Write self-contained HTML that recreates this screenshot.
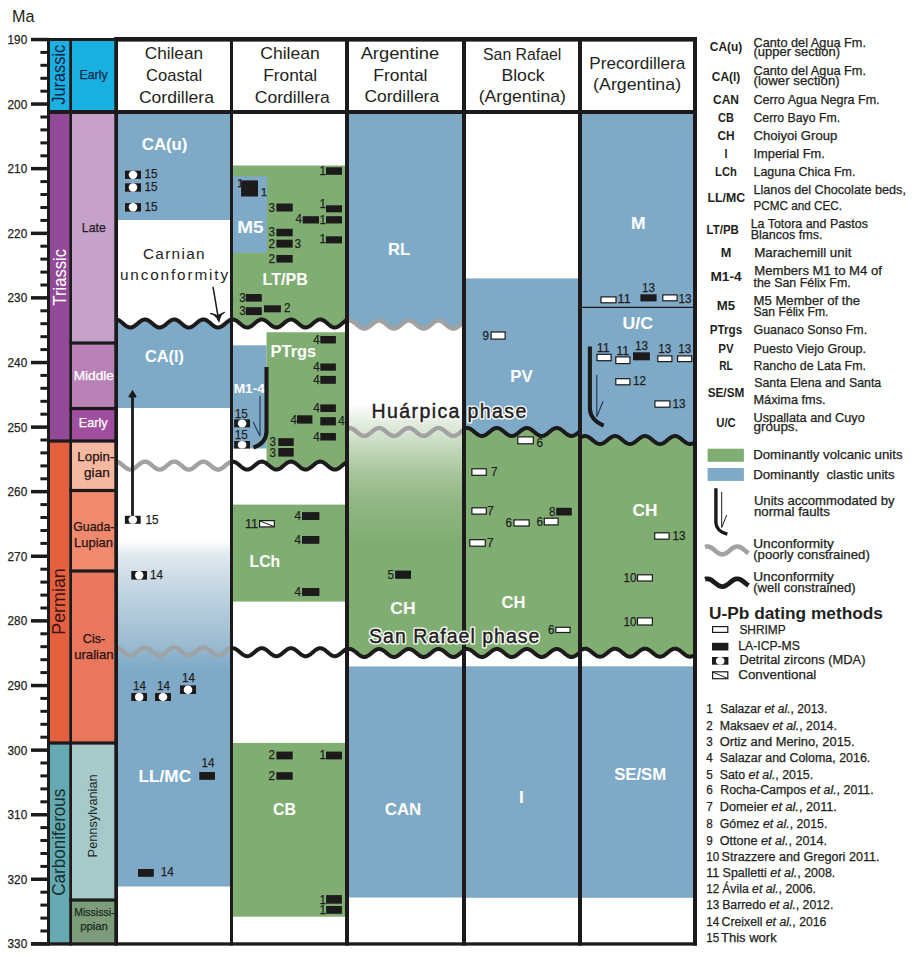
<!DOCTYPE html>
<html><head><meta charset="utf-8"><style>
html,body{margin:0;padding:0;background:#fff;width:915px;height:959px;overflow:hidden}
svg{display:block;font-family:"Liberation Sans",sans-serif}
</style></head><body>
<svg width="915" height="959" viewBox="0 0 915 959">
<rect width="915" height="959" fill="#fff"/>
<rect x="50.0" y="41.0" width="19.5" height="71.0" fill="#1ab0e2" />
<rect x="50.0" y="112.0" width="19.5" height="329.0" fill="#924a98" />
<rect x="50.0" y="441.0" width="19.5" height="302.0" fill="#e5603f" />
<rect x="50.0" y="743.0" width="19.5" height="200.0" fill="#67a9b0" />
<rect x="71.5" y="41.0" width="44.5" height="71.0" fill="#1ab0e2" />
<rect x="71.5" y="112.0" width="44.5" height="231.0" fill="#c6a2cb" />
<rect x="71.5" y="343.0" width="44.5" height="65.5" fill="#b982b7" />
<rect x="71.5" y="408.5" width="44.5" height="32.5" fill="#a04f9e" />
<rect x="71.5" y="441.0" width="44.5" height="49.5" fill="#f5b9a2" />
<rect x="71.5" y="490.5" width="44.5" height="80.5" fill="#ef8a6e" />
<rect x="71.5" y="571.0" width="44.5" height="172.0" fill="#e8775e" />
<rect x="71.5" y="743.0" width="44.5" height="157.0" fill="#a6c9c9" />
<rect x="71.5" y="900.0" width="44.5" height="43.0" fill="#7d9c7c" />
<rect x="118.0" y="112.0" width="113.0" height="108.0" fill="#7eaac8" />
<polygon fill="#7eaac8" points="118.0,319.94 119.0,320.41 120.0,321.03 121.0,321.75 122.0,322.56 123.0,323.41 124.0,324.27 125.0,325.09 126.0,325.84 127.0,326.48 128.0,326.98 129.0,327.32 130.0,327.49 131.0,327.47 132.0,327.27 133.0,326.89 134.0,326.36 135.0,325.70 136.0,324.93 137.0,324.10 138.0,323.24 139.0,322.40 140.0,321.60 141.0,320.89 142.0,320.30 143.0,319.86 144.0,319.59 145.0,319.50 146.0,319.59 147.0,319.86 148.0,320.30 149.0,320.89 150.0,321.60 151.0,322.40 152.0,323.24 153.0,324.10 154.0,324.93 155.0,325.70 156.0,326.36 157.0,326.89 158.0,327.27 159.0,327.47 160.0,327.49 161.0,327.32 162.0,326.98 163.0,326.48 164.0,325.84 165.0,325.09 166.0,324.27 167.0,323.41 168.0,322.56 169.0,321.75 170.0,321.03 171.0,320.41 172.0,319.94 173.0,319.63 174.0,319.50 175.0,319.56 176.0,319.80 177.0,320.20 178.0,320.76 179.0,321.45 180.0,322.23 181.0,323.07 182.0,323.93 183.0,324.77 184.0,325.55 185.0,326.24 186.0,326.80 187.0,327.20 188.0,327.44 189.0,327.50 190.0,327.37 191.0,327.06 192.0,326.59 193.0,325.97 194.0,325.25 195.0,324.44 196.0,323.59 197.0,322.73 198.0,321.91 199.0,321.16 200.0,320.52 201.0,320.02 202.0,319.68 203.0,319.51 204.0,319.53 205.0,319.73 206.0,320.11 207.0,320.64 208.0,321.30 209.0,322.07 210.0,322.90 211.0,323.76 212.0,324.60 213.0,325.40 214.0,326.11 215.0,326.70 216.0,327.14 217.0,327.41 218.0,327.50 219.0,327.41 220.0,327.14 221.0,326.70 222.0,326.11 223.0,325.40 224.0,324.60 225.0,323.76 226.0,322.90 227.0,322.07 228.0,321.30 229.0,320.64 230.0,320.11 231.0,319.73 231.0,408.00 118.0,408.00"/>
<defs><linearGradient id="g1" x1="0" y1="0" x2="0" y2="1"><stop offset="0" stop-color="#ffffff"/><stop offset="0.03" stop-color="#f8fafc"/><stop offset="0.12" stop-color="#dfe8ef"/><stop offset="0.45" stop-color="#bcd1df"/><stop offset="0.8" stop-color="#9dbcd1"/><stop offset="1" stop-color="#7eaac8"/></linearGradient>
<linearGradient id="g3" x1="0" y1="0" x2="0" y2="1"><stop offset="0" stop-color="#ffffff"/><stop offset="0.12" stop-color="#e6eee3"/><stop offset="0.3" stop-color="#c6dabf"/><stop offset="0.5" stop-color="#a8c69c"/><stop offset="0.72" stop-color="#90b683"/><stop offset="1" stop-color="#80ae72"/></linearGradient></defs>
<rect x="118.0" y="540.0" width="113.0" height="128.0" fill="url(#g1)" />
<rect x="118.0" y="667.5" width="113.0" height="219.0" fill="#7eaac8" />
<polygon fill="#80ae72" points="232.0,165.40 346.0,165.40 346.0,320.52 345.0,321.16 344.0,321.91 343.0,322.73 342.0,323.59 341.0,324.44 340.0,325.25 339.0,325.97 338.0,326.59 337.0,327.06 336.0,327.37 335.0,327.50 334.0,327.44 333.0,327.20 332.0,326.80 331.0,326.24 330.0,325.55 329.0,324.77 328.0,323.93 327.0,323.07 326.0,322.23 325.0,321.45 324.0,320.76 323.0,320.20 322.0,319.80 321.0,319.56 320.0,319.50 319.0,319.63 318.0,319.94 317.0,320.41 316.0,321.03 315.0,321.75 314.0,322.56 313.0,323.41 312.0,324.27 311.0,325.09 310.0,325.84 309.0,326.48 308.0,326.98 307.0,327.32 306.0,327.49 305.0,327.47 304.0,327.27 303.0,326.89 302.0,326.36 301.0,325.70 300.0,324.93 299.0,324.10 298.0,323.24 297.0,322.40 296.0,321.60 295.0,320.89 294.0,320.30 293.0,319.86 292.0,319.59 291.0,319.50 290.0,319.59 289.0,319.86 288.0,320.30 287.0,320.89 286.0,321.60 285.0,322.40 284.0,323.24 283.0,324.10 282.0,324.93 281.0,325.70 280.0,326.36 279.0,326.89 278.0,327.27 277.0,327.47 276.0,327.49 275.0,327.32 274.0,326.98 273.0,326.48 272.0,325.84 271.0,325.09 270.0,324.27 269.0,323.41 268.0,322.56 267.0,321.75 266.0,321.03 265.0,320.41 264.0,319.94 263.0,319.63 262.0,319.50 261.0,319.56 260.0,319.80 259.0,320.20 258.0,320.76 257.0,321.45 256.0,322.23 255.0,323.07 254.0,323.93 253.0,324.77 252.0,325.55 251.0,326.24 250.0,326.80 249.0,327.20 248.0,327.44 247.0,327.50 246.0,327.37 245.0,327.06 244.0,326.59 243.0,325.97 242.0,325.25 241.0,324.44 240.0,323.59 239.0,322.73 238.0,321.91 237.0,321.16 236.0,320.52 235.0,320.02 234.0,319.68 233.0,319.51 232.0,319.53"/>
<rect x="232.0" y="176.3" width="35.0" height="76.5" fill="#7eaac8" />
<rect x="232.0" y="345.3" width="34.5" height="103.2" fill="#7eaac8" />
<polygon fill="#80ae72" points="266.5,332.20 346.0,332.20 346.0,462.52 345.5,462.83 344.5,463.52 343.5,464.31 342.5,465.16 341.5,466.01 340.5,466.85 339.5,467.62 338.5,468.30 337.5,468.84 336.5,469.24 335.5,469.45 334.5,469.49 333.5,469.34 332.5,469.02 331.5,468.53 330.5,467.91 329.5,467.17 328.5,466.35 327.5,465.50 326.5,464.65 325.5,463.83 324.5,463.09 323.5,462.47 322.5,461.98 321.5,461.66 320.5,461.51 319.5,461.55 318.5,461.76 317.5,462.16 316.5,462.70 315.5,463.38 314.5,464.15 313.5,464.99 312.5,465.84 311.5,466.69 310.5,467.48 309.5,468.17 308.5,468.75 307.5,469.17 306.5,469.43 305.5,469.50 304.5,469.39 303.5,469.10 302.5,468.64 301.5,468.04 300.5,467.32 299.5,466.52 298.5,465.67 297.5,464.81 296.5,463.99 295.5,463.23 294.5,462.58 293.5,462.06 292.5,461.71 291.5,461.52 290.5,461.52 289.5,461.71 288.5,462.06 287.5,462.58 286.5,463.23 285.5,463.99 284.5,464.81 283.5,465.67 282.5,466.52 281.5,467.32 280.5,468.04 279.5,468.64 278.5,469.10 277.5,469.39 276.5,469.50 275.5,469.43 274.5,469.17 273.5,468.75 272.5,468.17 271.5,467.48 270.5,466.69 269.5,465.84 268.5,464.99 267.5,464.15 266.5,463.38"/>
<rect x="232.0" y="504.6" width="114.0" height="97.0" fill="#80ae72" />
<rect x="232.0" y="742.9" width="114.0" height="173.8" fill="#80ae72" />
<polygon fill="#7eaac8" points="348.0,112.00 463.0,112.00 463.0,322.79 462.0,323.57 461.0,324.41 460.0,325.25 459.0,326.07 458.0,326.82 457.0,327.47 456.0,327.99 455.0,328.36 454.0,328.56 453.0,328.59 452.0,328.44 451.0,328.12 450.0,327.64 449.0,327.02 448.0,326.30 447.0,325.50 446.0,324.66 445.0,323.82 444.0,323.02 443.0,322.28 442.0,321.65 441.0,321.15 440.0,320.80 439.0,320.62 438.0,320.62 437.0,320.80 436.0,321.15 435.0,321.65 434.0,322.28 433.0,323.02 432.0,323.82 431.0,324.66 430.0,325.50 429.0,326.30 428.0,327.02 427.0,327.64 426.0,328.12 425.0,328.44 424.0,328.59 423.0,328.56 422.0,328.36 421.0,327.99 420.0,327.47 419.0,326.82 418.0,326.07 417.0,325.25 416.0,324.41 415.0,323.57 414.0,322.79 413.0,322.08 412.0,321.48 411.0,321.03 410.0,320.73 409.0,320.60 408.0,320.66 407.0,320.89 406.0,321.28 405.0,321.82 404.0,322.49 403.0,323.25 402.0,324.07 401.0,324.92 400.0,325.75 399.0,326.53 398.0,327.22 397.0,327.80 396.0,328.23 395.0,328.50 394.0,328.60 393.0,328.52 392.0,328.26 391.0,327.85 390.0,327.28 389.0,326.60 388.0,325.83 387.0,325.00 386.0,324.16 385.0,323.33 384.0,322.56 383.0,321.89 382.0,321.33 381.0,320.92 380.0,320.67 379.0,320.60 378.0,320.71 377.0,320.99 376.0,321.43 375.0,322.01 374.0,322.71 373.0,323.49 372.0,324.33 371.0,325.17 370.0,325.99 369.0,326.74 368.0,327.41 367.0,327.94 366.0,328.33 365.0,328.55 364.0,328.59 363.0,328.46 362.0,328.16 361.0,327.69 360.0,327.09 359.0,326.38 358.0,325.58 357.0,324.75 356.0,323.91 355.0,323.09 354.0,322.35 353.0,321.71 352.0,321.19 351.0,320.83 350.0,320.63 349.0,320.61 348.0,320.77"/>
<rect x="348.0" y="404.0" width="115.0" height="137.0" fill="url(#g3)" />
<polygon fill="#80ae72" points="348.0,539.00 463.0,539.00 463.0,651.19 462.0,651.97 461.0,652.81 460.0,653.65 459.0,654.47 458.0,655.22 457.0,655.87 456.0,656.39 455.0,656.76 454.0,656.96 453.0,656.99 452.0,656.84 451.0,656.52 450.0,656.04 449.0,655.42 448.0,654.70 447.0,653.90 446.0,653.06 445.0,652.22 444.0,651.42 443.0,650.68 442.0,650.05 441.0,649.55 440.0,649.20 439.0,649.02 438.0,649.02 437.0,649.20 436.0,649.55 435.0,650.05 434.0,650.68 433.0,651.42 432.0,652.22 431.0,653.06 430.0,653.90 429.0,654.70 428.0,655.42 427.0,656.04 426.0,656.52 425.0,656.84 424.0,656.99 423.0,656.96 422.0,656.76 421.0,656.39 420.0,655.87 419.0,655.22 418.0,654.47 417.0,653.65 416.0,652.81 415.0,651.97 414.0,651.19 413.0,650.48 412.0,649.88 411.0,649.43 410.0,649.13 409.0,649.00 408.0,649.06 407.0,649.29 406.0,649.68 405.0,650.22 404.0,650.89 403.0,651.65 402.0,652.47 401.0,653.32 400.0,654.15 399.0,654.93 398.0,655.62 397.0,656.20 396.0,656.63 395.0,656.90 394.0,657.00 393.0,656.92 392.0,656.66 391.0,656.25 390.0,655.68 389.0,655.00 388.0,654.23 387.0,653.40 386.0,652.56 385.0,651.73 384.0,650.96 383.0,650.29 382.0,649.73 381.0,649.32 380.0,649.07 379.0,649.00 378.0,649.11 377.0,649.39 376.0,649.83 375.0,650.41 374.0,651.11 373.0,651.89 372.0,652.73 371.0,653.57 370.0,654.39 369.0,655.14 368.0,655.81 367.0,656.34 366.0,656.73 365.0,656.95 364.0,656.99 363.0,656.86 362.0,656.56 361.0,656.09 360.0,655.49 359.0,654.78 358.0,653.98 357.0,653.15 356.0,652.31 355.0,651.49 354.0,650.75 353.0,650.11 352.0,649.59 351.0,649.23 350.0,649.03 349.0,649.01 348.0,649.17"/>
<rect x="348.0" y="666.5" width="115.0" height="231.0" fill="#7eaac8" />
<rect x="465.0" y="278.4" width="114.0" height="121.6" fill="#7eaac8" />
<polygon fill="#7eaac8" points="465.0,399.00 579.0,399.00 579.0,432.11 578.0,432.94 577.0,433.73 576.0,434.44 575.0,435.05 574.0,435.52 573.0,435.84 572.0,435.99 571.0,435.96 570.0,435.76 569.0,435.40 568.0,434.88 567.0,434.24 566.0,433.50 565.0,432.69 564.0,431.85 563.0,431.02 562.0,430.23 561.0,429.52 560.0,428.92 559.0,428.46 558.0,428.15 557.0,428.01 556.0,428.04 555.0,428.25 554.0,428.63 553.0,429.15 552.0,429.80 551.0,430.54 550.0,431.35 549.0,432.19 548.0,433.02 547.0,433.80 546.0,434.51 545.0,435.10 544.0,435.56 543.0,435.86 542.0,435.99 541.0,435.95 540.0,435.73 539.0,435.35 538.0,434.82 537.0,434.17 536.0,433.42 535.0,432.61 534.0,431.77 533.0,430.94 532.0,430.16 531.0,429.46 530.0,428.87 529.0,428.42 528.0,428.13 527.0,428.00 526.0,428.06 525.0,428.28 524.0,428.67 523.0,429.21 522.0,429.87 521.0,430.62 520.0,431.43 519.0,432.27 518.0,433.10 517.0,433.88 516.0,434.57 515.0,435.16 514.0,435.60 513.0,435.88 512.0,436.00 511.0,435.94 510.0,435.70 509.0,435.30 508.0,434.76 507.0,434.10 506.0,433.34 505.0,432.52 504.0,431.69 503.0,430.86 502.0,430.09 501.0,429.40 500.0,428.82 499.0,428.38 498.0,428.11 497.0,428.00 496.0,428.07 495.0,428.31 494.0,428.72 493.0,429.27 492.0,429.94 491.0,430.70 490.0,431.52 489.0,432.36 488.0,433.18 487.0,433.95 486.0,434.64 485.0,435.21 484.0,435.63 483.0,435.90 482.0,436.00 481.0,435.92 480.0,435.67 479.0,435.26 478.0,434.70 477.0,434.02 476.0,433.26 475.0,432.44 474.0,431.60 473.0,430.78 472.0,430.01 471.0,429.33 470.0,428.77 469.0,428.35 468.0,428.09 467.0,428.00 466.0,428.09 465.0,428.35"/>
<polygon fill="#80ae72" points="465.0,428.35 466.0,428.09 467.0,428.00 468.0,428.09 469.0,428.35 470.0,428.77 471.0,429.33 472.0,430.01 473.0,430.78 474.0,431.60 475.0,432.44 476.0,433.26 477.0,434.02 478.0,434.70 479.0,435.26 480.0,435.67 481.0,435.92 482.0,436.00 483.0,435.90 484.0,435.63 485.0,435.21 486.0,434.64 487.0,433.95 488.0,433.18 489.0,432.36 490.0,431.52 491.0,430.70 492.0,429.94 493.0,429.27 494.0,428.72 495.0,428.31 496.0,428.07 497.0,428.00 498.0,428.11 499.0,428.38 500.0,428.82 501.0,429.40 502.0,430.09 503.0,430.86 504.0,431.69 505.0,432.52 506.0,433.34 507.0,434.10 508.0,434.76 509.0,435.30 510.0,435.70 511.0,435.94 512.0,436.00 513.0,435.88 514.0,435.60 515.0,435.16 516.0,434.57 517.0,433.88 518.0,433.10 519.0,432.27 520.0,431.43 521.0,430.62 522.0,429.87 523.0,429.21 524.0,428.67 525.0,428.28 526.0,428.06 527.0,428.00 528.0,428.13 529.0,428.42 530.0,428.87 531.0,429.46 532.0,430.16 533.0,430.94 534.0,431.77 535.0,432.61 536.0,433.42 537.0,434.17 538.0,434.82 539.0,435.35 540.0,435.73 541.0,435.95 542.0,435.99 543.0,435.86 544.0,435.56 545.0,435.10 546.0,434.51 547.0,433.80 548.0,433.02 549.0,432.19 550.0,431.35 551.0,430.54 552.0,429.80 553.0,429.15 554.0,428.63 555.0,428.25 556.0,428.04 557.0,428.01 558.0,428.15 559.0,428.46 560.0,428.92 561.0,429.52 562.0,430.23 563.0,431.02 564.0,431.85 565.0,432.69 566.0,433.50 567.0,434.24 568.0,434.88 569.0,435.40 570.0,435.76 571.0,435.96 572.0,435.99 573.0,435.84 574.0,435.52 575.0,435.05 576.0,434.44 577.0,433.73 578.0,432.94 579.0,432.11 579.0,500.00 465.0,500.00"/>
<polygon fill="#80ae72" points="465.0,499.00 579.0,499.00 579.0,653.11 578.0,653.94 577.0,654.73 576.0,655.44 575.0,656.05 574.0,656.52 573.0,656.84 572.0,656.99 571.0,656.96 570.0,656.76 569.0,656.40 568.0,655.88 567.0,655.24 566.0,654.50 565.0,653.69 564.0,652.85 563.0,652.02 562.0,651.23 561.0,650.52 560.0,649.92 559.0,649.46 558.0,649.15 557.0,649.01 556.0,649.04 555.0,649.25 554.0,649.63 553.0,650.15 552.0,650.80 551.0,651.54 550.0,652.35 549.0,653.19 548.0,654.02 547.0,654.80 546.0,655.51 545.0,656.10 544.0,656.56 543.0,656.86 542.0,656.99 541.0,656.95 540.0,656.73 539.0,656.35 538.0,655.82 537.0,655.17 536.0,654.42 535.0,653.61 534.0,652.77 533.0,651.94 532.0,651.16 531.0,650.46 530.0,649.87 529.0,649.42 528.0,649.13 527.0,649.00 526.0,649.06 525.0,649.28 524.0,649.67 523.0,650.21 522.0,650.87 521.0,651.62 520.0,652.43 519.0,653.27 518.0,654.10 517.0,654.88 516.0,655.57 515.0,656.16 514.0,656.60 513.0,656.88 512.0,657.00 511.0,656.94 510.0,656.70 509.0,656.30 508.0,655.76 507.0,655.10 506.0,654.34 505.0,653.52 504.0,652.69 503.0,651.86 502.0,651.09 501.0,650.40 500.0,649.82 499.0,649.38 498.0,649.11 497.0,649.00 496.0,649.07 495.0,649.31 494.0,649.72 493.0,650.27 492.0,650.94 491.0,651.70 490.0,652.52 489.0,653.36 488.0,654.18 487.0,654.95 486.0,655.64 485.0,656.21 484.0,656.63 483.0,656.90 482.0,657.00 481.0,656.92 480.0,656.67 479.0,656.26 478.0,655.70 477.0,655.02 476.0,654.26 475.0,653.44 474.0,652.60 473.0,651.78 472.0,651.01 471.0,650.33 470.0,649.77 469.0,649.35 468.0,649.09 467.0,649.00 466.0,649.09 465.0,649.35"/>
<rect x="465.0" y="666.3" width="114.0" height="231.5" fill="#7eaac8" />
<polygon fill="#7eaac8" points="581.0,112.00 694.0,112.00 694.0,442.68 693.0,443.24 692.0,443.65 691.0,443.91 690.0,444.00 689.0,443.91 688.0,443.65 687.0,443.24 686.0,442.68 685.0,442.00 684.0,441.24 683.0,440.42 682.0,439.58 681.0,438.76 680.0,438.00 679.0,437.32 678.0,436.76 677.0,436.35 676.0,436.09 675.0,436.00 674.0,436.09 673.0,436.35 672.0,436.76 671.0,437.32 670.0,438.00 669.0,438.76 668.0,439.58 667.0,440.42 666.0,441.24 665.0,442.00 664.0,442.68 663.0,443.24 662.0,443.65 661.0,443.91 660.0,444.00 659.0,443.91 658.0,443.65 657.0,443.24 656.0,442.68 655.0,442.00 654.0,441.24 653.0,440.42 652.0,439.58 651.0,438.76 650.0,438.00 649.0,437.32 648.0,436.76 647.0,436.35 646.0,436.09 645.0,436.00 644.0,436.09 643.0,436.35 642.0,436.76 641.0,437.32 640.0,438.00 639.0,438.76 638.0,439.58 637.0,440.42 636.0,441.24 635.0,442.00 634.0,442.68 633.0,443.24 632.0,443.65 631.0,443.91 630.0,444.00 629.0,443.91 628.0,443.65 627.0,443.24 626.0,442.68 625.0,442.00 624.0,441.24 623.0,440.42 622.0,439.58 621.0,438.76 620.0,438.00 619.0,437.32 618.0,436.76 617.0,436.35 616.0,436.09 615.0,436.00 614.0,436.09 613.0,436.35 612.0,436.76 611.0,437.32 610.0,438.00 609.0,438.76 608.0,439.58 607.0,440.42 606.0,441.24 605.0,442.00 604.0,442.68 603.0,443.24 602.0,443.65 601.0,443.91 600.0,444.00 599.0,443.91 598.0,443.65 597.0,443.24 596.0,442.68 595.0,442.00 594.0,441.24 593.0,440.42 592.0,439.58 591.0,438.76 590.0,438.00 589.0,437.32 588.0,436.76 587.0,436.35 586.0,436.09 585.0,436.00 584.0,436.09 583.0,436.35 582.0,436.76 581.0,437.32"/>
<polygon fill="#80ae72" points="581.0,437.32 582.0,436.76 583.0,436.35 584.0,436.09 585.0,436.00 586.0,436.09 587.0,436.35 588.0,436.76 589.0,437.32 590.0,438.00 591.0,438.76 592.0,439.58 593.0,440.42 594.0,441.24 595.0,442.00 596.0,442.68 597.0,443.24 598.0,443.65 599.0,443.91 600.0,444.00 601.0,443.91 602.0,443.65 603.0,443.24 604.0,442.68 605.0,442.00 606.0,441.24 607.0,440.42 608.0,439.58 609.0,438.76 610.0,438.00 611.0,437.32 612.0,436.76 613.0,436.35 614.0,436.09 615.0,436.00 616.0,436.09 617.0,436.35 618.0,436.76 619.0,437.32 620.0,438.00 621.0,438.76 622.0,439.58 623.0,440.42 624.0,441.24 625.0,442.00 626.0,442.68 627.0,443.24 628.0,443.65 629.0,443.91 630.0,444.00 631.0,443.91 632.0,443.65 633.0,443.24 634.0,442.68 635.0,442.00 636.0,441.24 637.0,440.42 638.0,439.58 639.0,438.76 640.0,438.00 641.0,437.32 642.0,436.76 643.0,436.35 644.0,436.09 645.0,436.00 646.0,436.09 647.0,436.35 648.0,436.76 649.0,437.32 650.0,438.00 651.0,438.76 652.0,439.58 653.0,440.42 654.0,441.24 655.0,442.00 656.0,442.68 657.0,443.24 658.0,443.65 659.0,443.91 660.0,444.00 661.0,443.91 662.0,443.65 663.0,443.24 664.0,442.68 665.0,442.00 666.0,441.24 667.0,440.42 668.0,439.58 669.0,438.76 670.0,438.00 671.0,437.32 672.0,436.76 673.0,436.35 674.0,436.09 675.0,436.00 676.0,436.09 677.0,436.35 678.0,436.76 679.0,437.32 680.0,438.00 681.0,438.76 682.0,439.58 683.0,440.42 684.0,441.24 685.0,442.00 686.0,442.68 687.0,443.24 688.0,443.65 689.0,443.91 690.0,444.00 691.0,443.91 692.0,443.65 693.0,443.24 694.0,442.68 694.0,500.00 581.0,500.00"/>
<polygon fill="#80ae72" points="581.0,499.00 694.0,499.00 694.0,655.38 693.0,655.94 692.0,656.35 691.0,656.61 690.0,656.70 689.0,656.61 688.0,656.35 687.0,655.94 686.0,655.38 685.0,654.70 684.0,653.94 683.0,653.12 682.0,652.28 681.0,651.46 680.0,650.70 679.0,650.02 678.0,649.46 677.0,649.05 676.0,648.79 675.0,648.70 674.0,648.79 673.0,649.05 672.0,649.46 671.0,650.02 670.0,650.70 669.0,651.46 668.0,652.28 667.0,653.12 666.0,653.94 665.0,654.70 664.0,655.38 663.0,655.94 662.0,656.35 661.0,656.61 660.0,656.70 659.0,656.61 658.0,656.35 657.0,655.94 656.0,655.38 655.0,654.70 654.0,653.94 653.0,653.12 652.0,652.28 651.0,651.46 650.0,650.70 649.0,650.02 648.0,649.46 647.0,649.05 646.0,648.79 645.0,648.70 644.0,648.79 643.0,649.05 642.0,649.46 641.0,650.02 640.0,650.70 639.0,651.46 638.0,652.28 637.0,653.12 636.0,653.94 635.0,654.70 634.0,655.38 633.0,655.94 632.0,656.35 631.0,656.61 630.0,656.70 629.0,656.61 628.0,656.35 627.0,655.94 626.0,655.38 625.0,654.70 624.0,653.94 623.0,653.12 622.0,652.28 621.0,651.46 620.0,650.70 619.0,650.02 618.0,649.46 617.0,649.05 616.0,648.79 615.0,648.70 614.0,648.79 613.0,649.05 612.0,649.46 611.0,650.02 610.0,650.70 609.0,651.46 608.0,652.28 607.0,653.12 606.0,653.94 605.0,654.70 604.0,655.38 603.0,655.94 602.0,656.35 601.0,656.61 600.0,656.70 599.0,656.61 598.0,656.35 597.0,655.94 596.0,655.38 595.0,654.70 594.0,653.94 593.0,653.12 592.0,652.28 591.0,651.46 590.0,650.70 589.0,650.02 588.0,649.46 587.0,649.05 586.0,648.79 585.0,648.70 584.0,648.79 583.0,649.05 582.0,649.46 581.0,650.02"/>
<rect x="581.0" y="666.3" width="113.0" height="231.5" fill="#7eaac8" />
<line x1="581" y1="307.4" x2="694" y2="307.4" stroke="#1c1a1b" stroke-width="1.2"/>
<polyline fill="none" stroke="#1c1a1b" stroke-width="4.0" stroke-linejoin="round" points="117.0,319.63 118.0,319.94 119.0,320.41 120.0,321.03 121.0,321.75 122.0,322.56 123.0,323.41 124.0,324.27 125.0,325.09 126.0,325.84 127.0,326.48 128.0,326.98 129.0,327.32 130.0,327.49 131.0,327.47 132.0,327.27 133.0,326.89 134.0,326.36 135.0,325.70 136.0,324.93 137.0,324.10 138.0,323.24 139.0,322.40 140.0,321.60 141.0,320.89 142.0,320.30 143.0,319.86 144.0,319.59 145.0,319.50 146.0,319.59 147.0,319.86 148.0,320.30 149.0,320.89 150.0,321.60 151.0,322.40 152.0,323.24 153.0,324.10 154.0,324.93 155.0,325.70 156.0,326.36 157.0,326.89 158.0,327.27 159.0,327.47 160.0,327.49 161.0,327.32 162.0,326.98 163.0,326.48 164.0,325.84 165.0,325.09 166.0,324.27 167.0,323.41 168.0,322.56 169.0,321.75 170.0,321.03 171.0,320.41 172.0,319.94 173.0,319.63 174.0,319.50 175.0,319.56 176.0,319.80 177.0,320.20 178.0,320.76 179.0,321.45 180.0,322.23 181.0,323.07 182.0,323.93 183.0,324.77 184.0,325.55 185.0,326.24 186.0,326.80 187.0,327.20 188.0,327.44 189.0,327.50 190.0,327.37 191.0,327.06 192.0,326.59 193.0,325.97 194.0,325.25 195.0,324.44 196.0,323.59 197.0,322.73 198.0,321.91 199.0,321.16 200.0,320.52 201.0,320.02 202.0,319.68 203.0,319.51 204.0,319.53 205.0,319.73 206.0,320.11 207.0,320.64 208.0,321.30 209.0,322.07 210.0,322.90 211.0,323.76 212.0,324.60 213.0,325.40 214.0,326.11 215.0,326.70 216.0,327.14 217.0,327.41 218.0,327.50 219.0,327.41 220.0,327.14 221.0,326.70 222.0,326.11 223.0,325.40 224.0,324.60 225.0,323.76 226.0,322.90 227.0,322.07 228.0,321.30 229.0,320.64 230.0,320.11 231.0,319.73 232.0,319.53"/>
<polyline fill="none" stroke="#1c1a1b" stroke-width="4.0" stroke-linejoin="round" points="231.0,319.73 232.0,319.53 233.0,319.51 234.0,319.68 235.0,320.02 236.0,320.52 237.0,321.16 238.0,321.91 239.0,322.73 240.0,323.59 241.0,324.44 242.0,325.25 243.0,325.97 244.0,326.59 245.0,327.06 246.0,327.37 247.0,327.50 248.0,327.44 249.0,327.20 250.0,326.80 251.0,326.24 252.0,325.55 253.0,324.77 254.0,323.93 255.0,323.07 256.0,322.23 257.0,321.45 258.0,320.76 259.0,320.20 260.0,319.80 261.0,319.56 262.0,319.50 263.0,319.63 264.0,319.94 265.0,320.41 266.0,321.03 267.0,321.75 268.0,322.56 269.0,323.41 270.0,324.27 271.0,325.09 272.0,325.84 273.0,326.48 274.0,326.98 275.0,327.32 276.0,327.49 277.0,327.47 278.0,327.27 279.0,326.89 280.0,326.36 281.0,325.70 282.0,324.93 283.0,324.10 284.0,323.24 285.0,322.40 286.0,321.60 287.0,320.89 288.0,320.30 289.0,319.86 290.0,319.59 291.0,319.50 292.0,319.59 293.0,319.86 294.0,320.30 295.0,320.89 296.0,321.60 297.0,322.40 298.0,323.24 299.0,324.10 300.0,324.93 301.0,325.70 302.0,326.36 303.0,326.89 304.0,327.27 305.0,327.47 306.0,327.49 307.0,327.32 308.0,326.98 309.0,326.48 310.0,325.84 311.0,325.09 312.0,324.27 313.0,323.41 314.0,322.56 315.0,321.75 316.0,321.03 317.0,320.41 318.0,319.94 319.0,319.63 320.0,319.50 321.0,319.56 322.0,319.80 323.0,320.20 324.0,320.76 325.0,321.45 326.0,322.23 327.0,323.07 328.0,323.93 329.0,324.77 330.0,325.55 331.0,326.24 332.0,326.80 333.0,327.20 334.0,327.44 335.0,327.50 336.0,327.37 337.0,327.06 338.0,326.59 339.0,325.97 340.0,325.25 341.0,324.44 342.0,323.59 343.0,322.73 344.0,321.91 345.0,321.16 346.0,320.52 347.0,320.02"/>
<polyline fill="none" stroke="#a2a2a2" stroke-width="4.3" stroke-linejoin="round" points="347.0,321.10 348.0,320.77 349.0,320.61 350.0,320.63 351.0,320.83 352.0,321.19 353.0,321.71 354.0,322.35 355.0,323.09 356.0,323.91 357.0,324.75 358.0,325.58 359.0,326.38 360.0,327.09 361.0,327.69 362.0,328.16 363.0,328.46 364.0,328.59 365.0,328.55 366.0,328.33 367.0,327.94 368.0,327.41 369.0,326.74 370.0,325.99 371.0,325.17 372.0,324.33 373.0,323.49 374.0,322.71 375.0,322.01 376.0,321.43 377.0,320.99 378.0,320.71 379.0,320.60 380.0,320.67 381.0,320.92 382.0,321.33 383.0,321.89 384.0,322.56 385.0,323.33 386.0,324.16 387.0,325.00 388.0,325.83 389.0,326.60 390.0,327.28 391.0,327.85 392.0,328.26 393.0,328.52 394.0,328.60 395.0,328.50 396.0,328.23 397.0,327.80 398.0,327.22 399.0,326.53 400.0,325.75 401.0,324.92 402.0,324.07 403.0,323.25 404.0,322.49 405.0,321.82 406.0,321.28 407.0,320.89 408.0,320.66 409.0,320.60 410.0,320.73 411.0,321.03 412.0,321.48 413.0,322.08 414.0,322.79 415.0,323.57 416.0,324.41 417.0,325.25 418.0,326.07 419.0,326.82 420.0,327.47 421.0,327.99 422.0,328.36 423.0,328.56 424.0,328.59 425.0,328.44 426.0,328.12 427.0,327.64 428.0,327.02 429.0,326.30 430.0,325.50 431.0,324.66 432.0,323.82 433.0,323.02 434.0,322.28 435.0,321.65 436.0,321.15 437.0,320.80 438.0,320.62 439.0,320.62 440.0,320.80 441.0,321.15 442.0,321.65 443.0,322.28 444.0,323.02 445.0,323.82 446.0,324.66 447.0,325.50 448.0,326.30 449.0,327.02 450.0,327.64 451.0,328.12 452.0,328.44 453.0,328.59 454.0,328.56 455.0,328.36 456.0,327.99 457.0,327.47 458.0,326.82 459.0,326.07 460.0,325.25 461.0,324.41 462.0,323.57 463.0,322.79 464.0,322.08"/>
<polyline fill="none" stroke="#a2a2a2" stroke-width="4.4" stroke-linejoin="round" points="117.0,461.73 118.0,462.04 119.0,462.51 120.0,463.13 121.0,463.85 122.0,464.66 123.0,465.51 124.0,466.37 125.0,467.19 126.0,467.94 127.0,468.58 128.0,469.08 129.0,469.42 130.0,469.59 131.0,469.57 132.0,469.37 133.0,468.99 134.0,468.46 135.0,467.80 136.0,467.03 137.0,466.20 138.0,465.34 139.0,464.50 140.0,463.70 141.0,462.99 142.0,462.40 143.0,461.96 144.0,461.69 145.0,461.60 146.0,461.69 147.0,461.96 148.0,462.40 149.0,462.99 150.0,463.70 151.0,464.50 152.0,465.34 153.0,466.20 154.0,467.03 155.0,467.80 156.0,468.46 157.0,468.99 158.0,469.37 159.0,469.57 160.0,469.59 161.0,469.42 162.0,469.08 163.0,468.58 164.0,467.94 165.0,467.19 166.0,466.37 167.0,465.51 168.0,464.66 169.0,463.85 170.0,463.13 171.0,462.51 172.0,462.04 173.0,461.73 174.0,461.60 175.0,461.66 176.0,461.90 177.0,462.30 178.0,462.86 179.0,463.55 180.0,464.33 181.0,465.17 182.0,466.03 183.0,466.87 184.0,467.65 185.0,468.34 186.0,468.90 187.0,469.30 188.0,469.54 189.0,469.60 190.0,469.47 191.0,469.16 192.0,468.69 193.0,468.07 194.0,467.35 195.0,466.54 196.0,465.69 197.0,464.83 198.0,464.01 199.0,463.26 200.0,462.62 201.0,462.12 202.0,461.78 203.0,461.61 204.0,461.63 205.0,461.83 206.0,462.21 207.0,462.74 208.0,463.40 209.0,464.17 210.0,465.00 211.0,465.86 212.0,466.70 213.0,467.50 214.0,468.21 215.0,468.80 216.0,469.24 217.0,469.51 218.0,469.60 219.0,469.51 220.0,469.24 221.0,468.80 222.0,468.21 223.0,467.50 224.0,466.70 225.0,465.86 226.0,465.00 227.0,464.17 228.0,463.40 229.0,462.74 230.0,462.21 231.0,461.83 232.0,461.63"/>
<polyline fill="none" stroke="#1c1a1b" stroke-width="4.0" stroke-linejoin="round" points="231.0,461.83 232.0,461.63 233.0,461.61 234.0,461.78 235.0,462.12 236.0,462.62 237.0,463.26 238.0,464.01 239.0,464.83 240.0,465.69 241.0,466.54 242.0,467.35 243.0,468.07 244.0,468.69 245.0,469.16 246.0,469.47 247.0,469.60 248.0,469.54 249.0,469.30 250.0,468.90 251.0,468.34 252.0,467.65 253.0,466.87 254.0,466.03 255.0,465.17 256.0,464.33 257.0,463.55 258.0,462.86 259.0,462.30 260.0,461.90 261.0,461.66 262.0,461.60 263.0,461.73 264.0,462.04 265.0,462.51 266.0,463.13 267.0,463.85 268.0,464.66 269.0,465.51 270.0,466.37 271.0,467.19 272.0,467.94 273.0,468.58 274.0,469.08 275.0,469.42 276.0,469.59 277.0,469.57 278.0,469.37 279.0,468.99 280.0,468.46 281.0,467.80 282.0,467.03 283.0,466.20 284.0,465.34 285.0,464.50 286.0,463.70 287.0,462.99 288.0,462.40 289.0,461.96 290.0,461.69 291.0,461.60 292.0,461.69 293.0,461.96 294.0,462.40 295.0,462.99 296.0,463.70 297.0,464.50 298.0,465.34 299.0,466.20 300.0,467.03 301.0,467.80 302.0,468.46 303.0,468.99 304.0,469.37 305.0,469.57 306.0,469.59 307.0,469.42 308.0,469.08 309.0,468.58 310.0,467.94 311.0,467.19 312.0,466.37 313.0,465.51 314.0,464.66 315.0,463.85 316.0,463.13 317.0,462.51 318.0,462.04 319.0,461.73 320.0,461.60 321.0,461.66 322.0,461.90 323.0,462.30 324.0,462.86 325.0,463.55 326.0,464.33 327.0,465.17 328.0,466.03 329.0,466.87 330.0,467.65 331.0,468.34 332.0,468.90 333.0,469.30 334.0,469.54 335.0,469.60 336.0,469.47 337.0,469.16 338.0,468.69 339.0,468.07 340.0,467.35 341.0,466.54 342.0,465.69 343.0,464.83 344.0,464.01 345.0,463.26 346.0,462.62 347.0,462.12"/>
<polyline fill="none" stroke="#a2a2a2" stroke-width="4.3" stroke-linejoin="round" points="347.0,428.50 348.0,428.17 349.0,428.01 350.0,428.03 351.0,428.23 352.0,428.59 353.0,429.11 354.0,429.75 355.0,430.49 356.0,431.31 357.0,432.15 358.0,432.98 359.0,433.78 360.0,434.49 361.0,435.09 362.0,435.56 363.0,435.86 364.0,435.99 365.0,435.95 366.0,435.73 367.0,435.34 368.0,434.81 369.0,434.14 370.0,433.39 371.0,432.57 372.0,431.73 373.0,430.89 374.0,430.11 375.0,429.41 376.0,428.83 377.0,428.39 378.0,428.11 379.0,428.00 380.0,428.07 381.0,428.32 382.0,428.73 383.0,429.29 384.0,429.96 385.0,430.73 386.0,431.56 387.0,432.40 388.0,433.23 389.0,434.00 390.0,434.68 391.0,435.25 392.0,435.66 393.0,435.92 394.0,436.00 395.0,435.90 396.0,435.63 397.0,435.20 398.0,434.62 399.0,433.93 400.0,433.15 401.0,432.32 402.0,431.47 403.0,430.65 404.0,429.89 405.0,429.22 406.0,428.68 407.0,428.29 408.0,428.06 409.0,428.00 410.0,428.13 411.0,428.43 412.0,428.88 413.0,429.48 414.0,430.19 415.0,430.97 416.0,431.81 417.0,432.65 418.0,433.47 419.0,434.22 420.0,434.87 421.0,435.39 422.0,435.76 423.0,435.96 424.0,435.99 425.0,435.84 426.0,435.52 427.0,435.04 428.0,434.42 429.0,433.70 430.0,432.90 431.0,432.06 432.0,431.22 433.0,430.42 434.0,429.68 435.0,429.05 436.0,428.55 437.0,428.20 438.0,428.02 439.0,428.02 440.0,428.20 441.0,428.55 442.0,429.05 443.0,429.68 444.0,430.42 445.0,431.22 446.0,432.06 447.0,432.90 448.0,433.70 449.0,434.42 450.0,435.04 451.0,435.52 452.0,435.84 453.0,435.99 454.0,435.96 455.0,435.76 456.0,435.39 457.0,434.87 458.0,434.22 459.0,433.47 460.0,432.65 461.0,431.81 462.0,430.97 463.0,430.19 464.0,429.48"/>
<polyline fill="none" stroke="#1c1a1b" stroke-width="4.0" stroke-linejoin="round" points="464.0,428.77 465.0,428.35 466.0,428.09 467.0,428.00 468.0,428.09 469.0,428.35 470.0,428.77 471.0,429.33 472.0,430.01 473.0,430.78 474.0,431.60 475.0,432.44 476.0,433.26 477.0,434.02 478.0,434.70 479.0,435.26 480.0,435.67 481.0,435.92 482.0,436.00 483.0,435.90 484.0,435.63 485.0,435.21 486.0,434.64 487.0,433.95 488.0,433.18 489.0,432.36 490.0,431.52 491.0,430.70 492.0,429.94 493.0,429.27 494.0,428.72 495.0,428.31 496.0,428.07 497.0,428.00 498.0,428.11 499.0,428.38 500.0,428.82 501.0,429.40 502.0,430.09 503.0,430.86 504.0,431.69 505.0,432.52 506.0,433.34 507.0,434.10 508.0,434.76 509.0,435.30 510.0,435.70 511.0,435.94 512.0,436.00 513.0,435.88 514.0,435.60 515.0,435.16 516.0,434.57 517.0,433.88 518.0,433.10 519.0,432.27 520.0,431.43 521.0,430.62 522.0,429.87 523.0,429.21 524.0,428.67 525.0,428.28 526.0,428.06 527.0,428.00 528.0,428.13 529.0,428.42 530.0,428.87 531.0,429.46 532.0,430.16 533.0,430.94 534.0,431.77 535.0,432.61 536.0,433.42 537.0,434.17 538.0,434.82 539.0,435.35 540.0,435.73 541.0,435.95 542.0,435.99 543.0,435.86 544.0,435.56 545.0,435.10 546.0,434.51 547.0,433.80 548.0,433.02 549.0,432.19 550.0,431.35 551.0,430.54 552.0,429.80 553.0,429.15 554.0,428.63 555.0,428.25 556.0,428.04 557.0,428.01 558.0,428.15 559.0,428.46 560.0,428.92 561.0,429.52 562.0,430.23 563.0,431.02 564.0,431.85 565.0,432.69 566.0,433.50 567.0,434.24 568.0,434.88 569.0,435.40 570.0,435.76 571.0,435.96 572.0,435.99 573.0,435.84 574.0,435.52 575.0,435.05 576.0,434.44 577.0,433.73 578.0,432.94 579.0,432.11 580.0,431.27"/>
<polyline fill="none" stroke="#1c1a1b" stroke-width="4.0" stroke-linejoin="round" points="580.0,438.00 581.0,437.32 582.0,436.76 583.0,436.35 584.0,436.09 585.0,436.00 586.0,436.09 587.0,436.35 588.0,436.76 589.0,437.32 590.0,438.00 591.0,438.76 592.0,439.58 593.0,440.42 594.0,441.24 595.0,442.00 596.0,442.68 597.0,443.24 598.0,443.65 599.0,443.91 600.0,444.00 601.0,443.91 602.0,443.65 603.0,443.24 604.0,442.68 605.0,442.00 606.0,441.24 607.0,440.42 608.0,439.58 609.0,438.76 610.0,438.00 611.0,437.32 612.0,436.76 613.0,436.35 614.0,436.09 615.0,436.00 616.0,436.09 617.0,436.35 618.0,436.76 619.0,437.32 620.0,438.00 621.0,438.76 622.0,439.58 623.0,440.42 624.0,441.24 625.0,442.00 626.0,442.68 627.0,443.24 628.0,443.65 629.0,443.91 630.0,444.00 631.0,443.91 632.0,443.65 633.0,443.24 634.0,442.68 635.0,442.00 636.0,441.24 637.0,440.42 638.0,439.58 639.0,438.76 640.0,438.00 641.0,437.32 642.0,436.76 643.0,436.35 644.0,436.09 645.0,436.00 646.0,436.09 647.0,436.35 648.0,436.76 649.0,437.32 650.0,438.00 651.0,438.76 652.0,439.58 653.0,440.42 654.0,441.24 655.0,442.00 656.0,442.68 657.0,443.24 658.0,443.65 659.0,443.91 660.0,444.00 661.0,443.91 662.0,443.65 663.0,443.24 664.0,442.68 665.0,442.00 666.0,441.24 667.0,440.42 668.0,439.58 669.0,438.76 670.0,438.00 671.0,437.32 672.0,436.76 673.0,436.35 674.0,436.09 675.0,436.00 676.0,436.09 677.0,436.35 678.0,436.76 679.0,437.32 680.0,438.00 681.0,438.76 682.0,439.58 683.0,440.42 684.0,441.24 685.0,442.00 686.0,442.68 687.0,443.24 688.0,443.65 689.0,443.91 690.0,444.00 691.0,443.91 692.0,443.65 693.0,443.24 694.0,442.68 695.0,442.00"/>
<polyline fill="none" stroke="#9fa3a6" stroke-width="4.4" stroke-linejoin="round" points="117.0,647.63 118.0,647.94 119.0,648.41 120.0,649.03 121.0,649.75 122.0,650.56 123.0,651.41 124.0,652.27 125.0,653.09 126.0,653.84 127.0,654.48 128.0,654.98 129.0,655.32 130.0,655.49 131.0,655.47 132.0,655.27 133.0,654.89 134.0,654.36 135.0,653.70 136.0,652.93 137.0,652.10 138.0,651.24 139.0,650.40 140.0,649.60 141.0,648.89 142.0,648.30 143.0,647.86 144.0,647.59 145.0,647.50 146.0,647.59 147.0,647.86 148.0,648.30 149.0,648.89 150.0,649.60 151.0,650.40 152.0,651.24 153.0,652.10 154.0,652.93 155.0,653.70 156.0,654.36 157.0,654.89 158.0,655.27 159.0,655.47 160.0,655.49 161.0,655.32 162.0,654.98 163.0,654.48 164.0,653.84 165.0,653.09 166.0,652.27 167.0,651.41 168.0,650.56 169.0,649.75 170.0,649.03 171.0,648.41 172.0,647.94 173.0,647.63 174.0,647.50 175.0,647.56 176.0,647.80 177.0,648.20 178.0,648.76 179.0,649.45 180.0,650.23 181.0,651.07 182.0,651.93 183.0,652.77 184.0,653.55 185.0,654.24 186.0,654.80 187.0,655.20 188.0,655.44 189.0,655.50 190.0,655.37 191.0,655.06 192.0,654.59 193.0,653.97 194.0,653.25 195.0,652.44 196.0,651.59 197.0,650.73 198.0,649.91 199.0,649.16 200.0,648.52 201.0,648.02 202.0,647.68 203.0,647.51 204.0,647.53 205.0,647.73 206.0,648.11 207.0,648.64 208.0,649.30 209.0,650.07 210.0,650.90 211.0,651.76 212.0,652.60 213.0,653.40 214.0,654.11 215.0,654.70 216.0,655.14 217.0,655.41 218.0,655.50 219.0,655.41 220.0,655.14 221.0,654.70 222.0,654.11 223.0,653.40 224.0,652.60 225.0,651.76 226.0,650.90 227.0,650.07 228.0,649.30 229.0,648.64 230.0,648.11 231.0,647.73 232.0,647.53"/>
<polyline fill="none" stroke="#1c1a1b" stroke-width="4.0" stroke-linejoin="round" points="231.0,648.43 232.0,648.23 233.0,648.21 234.0,648.38 235.0,648.72 236.0,649.22 237.0,649.86 238.0,650.61 239.0,651.43 240.0,652.29 241.0,653.14 242.0,653.95 243.0,654.67 244.0,655.29 245.0,655.76 246.0,656.07 247.0,656.20 248.0,656.14 249.0,655.90 250.0,655.50 251.0,654.94 252.0,654.25 253.0,653.47 254.0,652.63 255.0,651.77 256.0,650.93 257.0,650.15 258.0,649.46 259.0,648.90 260.0,648.50 261.0,648.26 262.0,648.20 263.0,648.33 264.0,648.64 265.0,649.11 266.0,649.73 267.0,650.45 268.0,651.26 269.0,652.11 270.0,652.97 271.0,653.79 272.0,654.54 273.0,655.18 274.0,655.68 275.0,656.02 276.0,656.19 277.0,656.17 278.0,655.97 279.0,655.59 280.0,655.06 281.0,654.40 282.0,653.63 283.0,652.80 284.0,651.94 285.0,651.10 286.0,650.30 287.0,649.59 288.0,649.00 289.0,648.56 290.0,648.29 291.0,648.20 292.0,648.29 293.0,648.56 294.0,649.00 295.0,649.59 296.0,650.30 297.0,651.10 298.0,651.94 299.0,652.80 300.0,653.63 301.0,654.40 302.0,655.06 303.0,655.59 304.0,655.97 305.0,656.17 306.0,656.19 307.0,656.02 308.0,655.68 309.0,655.18 310.0,654.54 311.0,653.79 312.0,652.97 313.0,652.11 314.0,651.26 315.0,650.45 316.0,649.73 317.0,649.11 318.0,648.64 319.0,648.33 320.0,648.20 321.0,648.26 322.0,648.50 323.0,648.90 324.0,649.46 325.0,650.15 326.0,650.93 327.0,651.77 328.0,652.63 329.0,653.47 330.0,654.25 331.0,654.94 332.0,655.50 333.0,655.90 334.0,656.14 335.0,656.20 336.0,656.07 337.0,655.76 338.0,655.29 339.0,654.67 340.0,653.95 341.0,653.14 342.0,652.29 343.0,651.43 344.0,650.61 345.0,649.86 346.0,649.22 347.0,648.72"/>
<polyline fill="none" stroke="#1c1a1b" stroke-width="4.0" stroke-linejoin="round" points="347.0,649.50 348.0,649.17 349.0,649.01 350.0,649.03 351.0,649.23 352.0,649.59 353.0,650.11 354.0,650.75 355.0,651.49 356.0,652.31 357.0,653.15 358.0,653.98 359.0,654.78 360.0,655.49 361.0,656.09 362.0,656.56 363.0,656.86 364.0,656.99 365.0,656.95 366.0,656.73 367.0,656.34 368.0,655.81 369.0,655.14 370.0,654.39 371.0,653.57 372.0,652.73 373.0,651.89 374.0,651.11 375.0,650.41 376.0,649.83 377.0,649.39 378.0,649.11 379.0,649.00 380.0,649.07 381.0,649.32 382.0,649.73 383.0,650.29 384.0,650.96 385.0,651.73 386.0,652.56 387.0,653.40 388.0,654.23 389.0,655.00 390.0,655.68 391.0,656.25 392.0,656.66 393.0,656.92 394.0,657.00 395.0,656.90 396.0,656.63 397.0,656.20 398.0,655.62 399.0,654.93 400.0,654.15 401.0,653.32 402.0,652.47 403.0,651.65 404.0,650.89 405.0,650.22 406.0,649.68 407.0,649.29 408.0,649.06 409.0,649.00 410.0,649.13 411.0,649.43 412.0,649.88 413.0,650.48 414.0,651.19 415.0,651.97 416.0,652.81 417.0,653.65 418.0,654.47 419.0,655.22 420.0,655.87 421.0,656.39 422.0,656.76 423.0,656.96 424.0,656.99 425.0,656.84 426.0,656.52 427.0,656.04 428.0,655.42 429.0,654.70 430.0,653.90 431.0,653.06 432.0,652.22 433.0,651.42 434.0,650.68 435.0,650.05 436.0,649.55 437.0,649.20 438.0,649.02 439.0,649.02 440.0,649.20 441.0,649.55 442.0,650.05 443.0,650.68 444.0,651.42 445.0,652.22 446.0,653.06 447.0,653.90 448.0,654.70 449.0,655.42 450.0,656.04 451.0,656.52 452.0,656.84 453.0,656.99 454.0,656.96 455.0,656.76 456.0,656.39 457.0,655.87 458.0,655.22 459.0,654.47 460.0,653.65 461.0,652.81 462.0,651.97 463.0,651.19 464.0,650.48"/>
<polyline fill="none" stroke="#1c1a1b" stroke-width="4.0" stroke-linejoin="round" points="464.0,649.77 465.0,649.35 466.0,649.09 467.0,649.00 468.0,649.09 469.0,649.35 470.0,649.77 471.0,650.33 472.0,651.01 473.0,651.78 474.0,652.60 475.0,653.44 476.0,654.26 477.0,655.02 478.0,655.70 479.0,656.26 480.0,656.67 481.0,656.92 482.0,657.00 483.0,656.90 484.0,656.63 485.0,656.21 486.0,655.64 487.0,654.95 488.0,654.18 489.0,653.36 490.0,652.52 491.0,651.70 492.0,650.94 493.0,650.27 494.0,649.72 495.0,649.31 496.0,649.07 497.0,649.00 498.0,649.11 499.0,649.38 500.0,649.82 501.0,650.40 502.0,651.09 503.0,651.86 504.0,652.69 505.0,653.52 506.0,654.34 507.0,655.10 508.0,655.76 509.0,656.30 510.0,656.70 511.0,656.94 512.0,657.00 513.0,656.88 514.0,656.60 515.0,656.16 516.0,655.57 517.0,654.88 518.0,654.10 519.0,653.27 520.0,652.43 521.0,651.62 522.0,650.87 523.0,650.21 524.0,649.67 525.0,649.28 526.0,649.06 527.0,649.00 528.0,649.13 529.0,649.42 530.0,649.87 531.0,650.46 532.0,651.16 533.0,651.94 534.0,652.77 535.0,653.61 536.0,654.42 537.0,655.17 538.0,655.82 539.0,656.35 540.0,656.73 541.0,656.95 542.0,656.99 543.0,656.86 544.0,656.56 545.0,656.10 546.0,655.51 547.0,654.80 548.0,654.02 549.0,653.19 550.0,652.35 551.0,651.54 552.0,650.80 553.0,650.15 554.0,649.63 555.0,649.25 556.0,649.04 557.0,649.01 558.0,649.15 559.0,649.46 560.0,649.92 561.0,650.52 562.0,651.23 563.0,652.02 564.0,652.85 565.0,653.69 566.0,654.50 567.0,655.24 568.0,655.88 569.0,656.40 570.0,656.76 571.0,656.96 572.0,656.99 573.0,656.84 574.0,656.52 575.0,656.05 576.0,655.44 577.0,654.73 578.0,653.94 579.0,653.11 580.0,652.27"/>
<polyline fill="none" stroke="#1c1a1b" stroke-width="4.0" stroke-linejoin="round" points="580.0,650.70 581.0,650.02 582.0,649.46 583.0,649.05 584.0,648.79 585.0,648.70 586.0,648.79 587.0,649.05 588.0,649.46 589.0,650.02 590.0,650.70 591.0,651.46 592.0,652.28 593.0,653.12 594.0,653.94 595.0,654.70 596.0,655.38 597.0,655.94 598.0,656.35 599.0,656.61 600.0,656.70 601.0,656.61 602.0,656.35 603.0,655.94 604.0,655.38 605.0,654.70 606.0,653.94 607.0,653.12 608.0,652.28 609.0,651.46 610.0,650.70 611.0,650.02 612.0,649.46 613.0,649.05 614.0,648.79 615.0,648.70 616.0,648.79 617.0,649.05 618.0,649.46 619.0,650.02 620.0,650.70 621.0,651.46 622.0,652.28 623.0,653.12 624.0,653.94 625.0,654.70 626.0,655.38 627.0,655.94 628.0,656.35 629.0,656.61 630.0,656.70 631.0,656.61 632.0,656.35 633.0,655.94 634.0,655.38 635.0,654.70 636.0,653.94 637.0,653.12 638.0,652.28 639.0,651.46 640.0,650.70 641.0,650.02 642.0,649.46 643.0,649.05 644.0,648.79 645.0,648.70 646.0,648.79 647.0,649.05 648.0,649.46 649.0,650.02 650.0,650.70 651.0,651.46 652.0,652.28 653.0,653.12 654.0,653.94 655.0,654.70 656.0,655.38 657.0,655.94 658.0,656.35 659.0,656.61 660.0,656.70 661.0,656.61 662.0,656.35 663.0,655.94 664.0,655.38 665.0,654.70 666.0,653.94 667.0,653.12 668.0,652.28 669.0,651.46 670.0,650.70 671.0,650.02 672.0,649.46 673.0,649.05 674.0,648.79 675.0,648.70 676.0,648.79 677.0,649.05 678.0,649.46 679.0,650.02 680.0,650.70 681.0,651.46 682.0,652.28 683.0,653.12 684.0,653.94 685.0,654.70 686.0,655.38 687.0,655.94 688.0,656.35 689.0,656.61 690.0,656.70 691.0,656.61 692.0,656.35 693.0,655.94 694.0,655.38 695.0,654.70"/>
<rect x="47.0" y="38.0" width="3.0" height="907.6" fill="#1c1a1b" />
<rect x="69.2" y="38.0" width="2.8" height="907.6" fill="#1c1a1b" />
<rect x="114.3" y="37.0" width="3.7" height="908.6" fill="#1c1a1b" />
<rect x="230.0" y="37.0" width="3.0" height="908.6" fill="#1c1a1b" />
<rect x="345.0" y="37.0" width="4.0" height="908.6" fill="#1c1a1b" />
<rect x="462.0" y="37.0" width="4.0" height="908.6" fill="#1c1a1b" />
<rect x="578.0" y="37.0" width="4.0" height="908.6" fill="#1c1a1b" />
<rect x="693.0" y="37.0" width="4.0" height="908.6" fill="#1c1a1b" />
<rect x="31.0" y="38.0" width="83.3" height="3.0" fill="#1c1a1b" />
<rect x="114.3" y="37.0" width="582.7" height="4.6" fill="#1c1a1b" />
<rect x="47.0" y="110.0" width="650.0" height="4.0" fill="#1c1a1b" />
<rect x="31.0" y="942.3" width="666.0" height="3.3" fill="#1c1a1b" />
<rect x="69.2" y="341.4" width="48.8" height="3.2" fill="#1c1a1b" />
<rect x="69.2" y="406.9" width="48.8" height="3.2" fill="#1c1a1b" />
<rect x="69.2" y="439.4" width="48.8" height="3.2" fill="#1c1a1b" />
<rect x="69.2" y="488.9" width="48.8" height="3.2" fill="#1c1a1b" />
<rect x="69.2" y="569.4" width="48.8" height="3.2" fill="#1c1a1b" />
<rect x="69.2" y="741.4" width="48.8" height="3.2" fill="#1c1a1b" />
<rect x="69.2" y="898.4" width="48.8" height="3.2" fill="#1c1a1b" />
<rect x="47.0" y="439.4" width="25.0" height="3.2" fill="#1c1a1b" />
<rect x="47.0" y="741.4" width="25.0" height="3.2" fill="#1c1a1b" />
<rect x="31.0" y="37.8" width="18.0" height="3.5" fill="#1c1a1b" />
<text x="27.2" y="43.9" font-size="12.3" text-anchor="end" fill="#231f20" font-weight="normal" textLength="19.6" lengthAdjust="spacingAndGlyphs" stroke="#231f20" stroke-width="0.25" >190</text>
<rect x="40.4" y="50.9" width="8.6" height="3.0" fill="#1c1a1b" />
<rect x="40.4" y="63.8" width="8.6" height="3.0" fill="#1c1a1b" />
<rect x="40.4" y="76.8" width="8.6" height="3.0" fill="#1c1a1b" />
<rect x="40.4" y="89.7" width="8.6" height="3.0" fill="#1c1a1b" />
<rect x="31.0" y="102.3" width="18.0" height="3.5" fill="#1c1a1b" />
<text x="27.2" y="108.5" font-size="12.3" text-anchor="end" fill="#231f20" font-weight="normal" textLength="19.6" lengthAdjust="spacingAndGlyphs" stroke="#231f20" stroke-width="0.25" >200</text>
<rect x="40.4" y="115.5" width="8.6" height="3.0" fill="#1c1a1b" />
<rect x="40.4" y="128.4" width="8.6" height="3.0" fill="#1c1a1b" />
<rect x="40.4" y="141.4" width="8.6" height="3.0" fill="#1c1a1b" />
<rect x="40.4" y="154.3" width="8.6" height="3.0" fill="#1c1a1b" />
<rect x="31.0" y="166.9" width="18.0" height="3.5" fill="#1c1a1b" />
<text x="27.2" y="173.1" font-size="12.3" text-anchor="end" fill="#231f20" font-weight="normal" textLength="19.6" lengthAdjust="spacingAndGlyphs" stroke="#231f20" stroke-width="0.25" >210</text>
<rect x="40.4" y="180.1" width="8.6" height="3.0" fill="#1c1a1b" />
<rect x="40.4" y="193.0" width="8.6" height="3.0" fill="#1c1a1b" />
<rect x="40.4" y="206.0" width="8.6" height="3.0" fill="#1c1a1b" />
<rect x="40.4" y="218.9" width="8.6" height="3.0" fill="#1c1a1b" />
<rect x="31.0" y="231.6" width="18.0" height="3.5" fill="#1c1a1b" />
<text x="27.2" y="237.7" font-size="12.3" text-anchor="end" fill="#231f20" font-weight="normal" textLength="19.6" lengthAdjust="spacingAndGlyphs" stroke="#231f20" stroke-width="0.25" >220</text>
<rect x="40.4" y="244.7" width="8.6" height="3.0" fill="#1c1a1b" />
<rect x="40.4" y="257.6" width="8.6" height="3.0" fill="#1c1a1b" />
<rect x="40.4" y="270.6" width="8.6" height="3.0" fill="#1c1a1b" />
<rect x="40.4" y="283.5" width="8.6" height="3.0" fill="#1c1a1b" />
<rect x="31.0" y="296.1" width="18.0" height="3.5" fill="#1c1a1b" />
<text x="27.2" y="302.3" font-size="12.3" text-anchor="end" fill="#231f20" font-weight="normal" textLength="19.6" lengthAdjust="spacingAndGlyphs" stroke="#231f20" stroke-width="0.25" >230</text>
<rect x="40.4" y="309.3" width="8.6" height="3.0" fill="#1c1a1b" />
<rect x="40.4" y="322.2" width="8.6" height="3.0" fill="#1c1a1b" />
<rect x="40.4" y="335.2" width="8.6" height="3.0" fill="#1c1a1b" />
<rect x="40.4" y="348.1" width="8.6" height="3.0" fill="#1c1a1b" />
<rect x="31.0" y="360.8" width="18.0" height="3.5" fill="#1c1a1b" />
<text x="27.2" y="366.9" font-size="12.3" text-anchor="end" fill="#231f20" font-weight="normal" textLength="19.6" lengthAdjust="spacingAndGlyphs" stroke="#231f20" stroke-width="0.25" >240</text>
<rect x="40.4" y="373.9" width="8.6" height="3.0" fill="#1c1a1b" />
<rect x="40.4" y="386.8" width="8.6" height="3.0" fill="#1c1a1b" />
<rect x="40.4" y="399.8" width="8.6" height="3.0" fill="#1c1a1b" />
<rect x="40.4" y="412.7" width="8.6" height="3.0" fill="#1c1a1b" />
<rect x="31.0" y="425.4" width="18.0" height="3.5" fill="#1c1a1b" />
<text x="27.2" y="431.5" font-size="12.3" text-anchor="end" fill="#231f20" font-weight="normal" textLength="19.6" lengthAdjust="spacingAndGlyphs" stroke="#231f20" stroke-width="0.25" >250</text>
<rect x="40.4" y="438.5" width="8.6" height="3.0" fill="#1c1a1b" />
<rect x="40.4" y="451.4" width="8.6" height="3.0" fill="#1c1a1b" />
<rect x="40.4" y="464.4" width="8.6" height="3.0" fill="#1c1a1b" />
<rect x="40.4" y="477.3" width="8.6" height="3.0" fill="#1c1a1b" />
<rect x="31.0" y="489.9" width="18.0" height="3.5" fill="#1c1a1b" />
<text x="27.2" y="496.1" font-size="12.3" text-anchor="end" fill="#231f20" font-weight="normal" textLength="19.6" lengthAdjust="spacingAndGlyphs" stroke="#231f20" stroke-width="0.25" >260</text>
<rect x="40.4" y="503.1" width="8.6" height="3.0" fill="#1c1a1b" />
<rect x="40.4" y="516.0" width="8.6" height="3.0" fill="#1c1a1b" />
<rect x="40.4" y="529.0" width="8.6" height="3.0" fill="#1c1a1b" />
<rect x="40.4" y="541.9" width="8.6" height="3.0" fill="#1c1a1b" />
<rect x="31.0" y="554.5" width="18.0" height="3.5" fill="#1c1a1b" />
<text x="27.2" y="560.7" font-size="12.3" text-anchor="end" fill="#231f20" font-weight="normal" textLength="19.6" lengthAdjust="spacingAndGlyphs" stroke="#231f20" stroke-width="0.25" >270</text>
<rect x="40.4" y="567.7" width="8.6" height="3.0" fill="#1c1a1b" />
<rect x="40.4" y="580.6" width="8.6" height="3.0" fill="#1c1a1b" />
<rect x="40.4" y="593.6" width="8.6" height="3.0" fill="#1c1a1b" />
<rect x="40.4" y="606.5" width="8.6" height="3.0" fill="#1c1a1b" />
<rect x="31.0" y="619.1" width="18.0" height="3.5" fill="#1c1a1b" />
<text x="27.2" y="625.3" font-size="12.3" text-anchor="end" fill="#231f20" font-weight="normal" textLength="19.6" lengthAdjust="spacingAndGlyphs" stroke="#231f20" stroke-width="0.25" >280</text>
<rect x="40.4" y="632.3" width="8.6" height="3.0" fill="#1c1a1b" />
<rect x="40.4" y="645.2" width="8.6" height="3.0" fill="#1c1a1b" />
<rect x="40.4" y="658.2" width="8.6" height="3.0" fill="#1c1a1b" />
<rect x="40.4" y="671.1" width="8.6" height="3.0" fill="#1c1a1b" />
<rect x="31.0" y="683.8" width="18.0" height="3.5" fill="#1c1a1b" />
<text x="27.2" y="689.9" font-size="12.3" text-anchor="end" fill="#231f20" font-weight="normal" textLength="19.6" lengthAdjust="spacingAndGlyphs" stroke="#231f20" stroke-width="0.25" >290</text>
<rect x="40.4" y="696.9" width="8.6" height="3.0" fill="#1c1a1b" />
<rect x="40.4" y="709.8" width="8.6" height="3.0" fill="#1c1a1b" />
<rect x="40.4" y="722.8" width="8.6" height="3.0" fill="#1c1a1b" />
<rect x="40.4" y="735.7" width="8.6" height="3.0" fill="#1c1a1b" />
<rect x="31.0" y="748.4" width="18.0" height="3.5" fill="#1c1a1b" />
<text x="27.2" y="754.5" font-size="12.3" text-anchor="end" fill="#231f20" font-weight="normal" textLength="19.6" lengthAdjust="spacingAndGlyphs" stroke="#231f20" stroke-width="0.25" >300</text>
<rect x="40.4" y="761.5" width="8.6" height="3.0" fill="#1c1a1b" />
<rect x="40.4" y="774.4" width="8.6" height="3.0" fill="#1c1a1b" />
<rect x="40.4" y="787.4" width="8.6" height="3.0" fill="#1c1a1b" />
<rect x="40.4" y="800.3" width="8.6" height="3.0" fill="#1c1a1b" />
<rect x="31.0" y="813.0" width="18.0" height="3.5" fill="#1c1a1b" />
<text x="27.2" y="819.1" font-size="12.3" text-anchor="end" fill="#231f20" font-weight="normal" textLength="19.6" lengthAdjust="spacingAndGlyphs" stroke="#231f20" stroke-width="0.25" >310</text>
<rect x="40.4" y="826.1" width="8.6" height="3.0" fill="#1c1a1b" />
<rect x="40.4" y="839.0" width="8.6" height="3.0" fill="#1c1a1b" />
<rect x="40.4" y="852.0" width="8.6" height="3.0" fill="#1c1a1b" />
<rect x="40.4" y="864.9" width="8.6" height="3.0" fill="#1c1a1b" />
<rect x="31.0" y="877.5" width="18.0" height="3.5" fill="#1c1a1b" />
<text x="27.2" y="883.7" font-size="12.3" text-anchor="end" fill="#231f20" font-weight="normal" textLength="19.6" lengthAdjust="spacingAndGlyphs" stroke="#231f20" stroke-width="0.25" >320</text>
<rect x="40.4" y="890.7" width="8.6" height="3.0" fill="#1c1a1b" />
<rect x="40.4" y="903.6" width="8.6" height="3.0" fill="#1c1a1b" />
<rect x="40.4" y="916.6" width="8.6" height="3.0" fill="#1c1a1b" />
<rect x="40.4" y="929.5" width="8.6" height="3.0" fill="#1c1a1b" />
<rect x="31.0" y="942.1" width="18.0" height="3.5" fill="#1c1a1b" />
<text x="27.2" y="948.3" font-size="12.3" text-anchor="end" fill="#231f20" font-weight="normal" textLength="19.6" lengthAdjust="spacingAndGlyphs" stroke="#231f20" stroke-width="0.25" >330</text>
<text x="12.0" y="21.9" font-size="16.3" text-anchor="start" fill="#231f20" font-weight="normal" textLength="22.4" lengthAdjust="spacingAndGlyphs" >Ma</text>
<text x="173.9" y="58.9" font-size="16.4" text-anchor="middle" fill="#231f20" font-weight="normal" textLength="58.3" lengthAdjust="spacingAndGlyphs" >Chilean</text>
<text x="174.1" y="80.8" font-size="16.4" text-anchor="middle" fill="#231f20" font-weight="normal" textLength="56.1" lengthAdjust="spacingAndGlyphs" >Coastal</text>
<text x="176.4" y="102.5" font-size="16.4" text-anchor="middle" fill="#231f20" font-weight="normal" textLength="75.0" lengthAdjust="spacingAndGlyphs" >Cordillera</text>
<text x="290.0" y="58.9" font-size="16.4" text-anchor="middle" fill="#231f20" font-weight="normal" textLength="59.6" lengthAdjust="spacingAndGlyphs" >Chilean</text>
<text x="290.2" y="80.8" font-size="16.4" text-anchor="middle" fill="#231f20" font-weight="normal" textLength="54.0" lengthAdjust="spacingAndGlyphs" >Frontal</text>
<text x="292.3" y="102.5" font-size="16.4" text-anchor="middle" fill="#231f20" font-weight="normal" textLength="75.0" lengthAdjust="spacingAndGlyphs" >Cordillera</text>
<text x="399.9" y="58.6" font-size="16.4" text-anchor="middle" fill="#231f20" font-weight="normal" textLength="78.5" lengthAdjust="spacingAndGlyphs" >Argentine</text>
<text x="400.4" y="80.7" font-size="16.4" text-anchor="middle" fill="#231f20" font-weight="normal" textLength="54.2" lengthAdjust="spacingAndGlyphs" >Frontal</text>
<text x="401.8" y="102.3" font-size="16.4" text-anchor="middle" fill="#231f20" font-weight="normal" textLength="74.7" lengthAdjust="spacingAndGlyphs" >Cordillera</text>
<text x="522.2" y="59.6" font-size="16.4" text-anchor="middle" fill="#231f20" font-weight="normal" textLength="78.4" lengthAdjust="spacingAndGlyphs" >San Rafael</text>
<text x="523.0" y="80.7" font-size="16.4" text-anchor="middle" fill="#231f20" font-weight="normal" textLength="43.2" lengthAdjust="spacingAndGlyphs" >Block</text>
<text x="522.3" y="102.3" font-size="16.4" text-anchor="middle" fill="#231f20" font-weight="normal" textLength="87.2" lengthAdjust="spacingAndGlyphs" >(Argentina)</text>
<text x="637.3" y="68.9" font-size="16.4" text-anchor="middle" fill="#231f20" font-weight="normal" textLength="96.0" lengthAdjust="spacingAndGlyphs" >Precordillera</text>
<text x="637.1" y="90.3" font-size="16.4" text-anchor="middle" fill="#231f20" font-weight="normal" textLength="88.0" lengthAdjust="spacingAndGlyphs" >(Argentina)</text>
<text transform="translate(58.9,74.7) rotate(-90)" x="0" y="0" font-size="17.5" text-anchor="middle" fill="#0c2244" textLength="60.0" lengthAdjust="spacingAndGlyphs" dominant-baseline="central">Jurassic</text>
<text transform="translate(59.6,277.2) rotate(-90)" x="0" y="0" font-size="17.5" text-anchor="middle" fill="#fff" textLength="56.4" lengthAdjust="spacingAndGlyphs" dominant-baseline="central">Triassic</text>
<text transform="translate(58.9,601.5) rotate(-90)" x="0" y="0" font-size="17.8" text-anchor="middle" fill="#3a1410" textLength="66.5" lengthAdjust="spacingAndGlyphs" dominant-baseline="central">Permian</text>
<text transform="translate(58.9,842.2) rotate(-90)" x="0" y="0" font-size="17.8" text-anchor="middle" fill="#12302f" textLength="107.0" lengthAdjust="spacingAndGlyphs" dominant-baseline="central">Carboniferous</text>
<text transform="translate(93.0,815.9) rotate(-90)" x="0" y="0" font-size="12.6" text-anchor="middle" fill="#1a2828" textLength="83.0" lengthAdjust="spacingAndGlyphs" dominant-baseline="central">Pennsylvanian</text>
<text x="93.6" y="79.2" font-size="12.6" text-anchor="middle" fill="#0f2a4a" font-weight="normal" textLength="28.0" lengthAdjust="spacingAndGlyphs" stroke="#0f2a4a" stroke-width="0.25" >Early</text>
<text x="93.8" y="231.6" font-size="12.6" text-anchor="middle" fill="#231f20" font-weight="normal" textLength="24.0" lengthAdjust="spacingAndGlyphs" stroke="#231f20" stroke-width="0.25" >Late</text>
<text x="93.8" y="380.4" font-size="12.6" text-anchor="middle" fill="#fff" font-weight="normal" textLength="40.2" lengthAdjust="spacingAndGlyphs" stroke="#fff" stroke-width="0.25" >Middle</text>
<text x="93.2" y="427.4" font-size="12.6" text-anchor="middle" fill="#fff" font-weight="normal" textLength="29.0" lengthAdjust="spacingAndGlyphs" stroke="#fff" stroke-width="0.25" >Early</text>
<text x="95.9" y="461.3" font-size="12.6" text-anchor="middle" fill="#2a1210" font-weight="normal" textLength="37.1" lengthAdjust="spacingAndGlyphs" stroke="#2a1210" stroke-width="0.25" >Lopin-</text>
<text x="96.9" y="477.0" font-size="12.6" text-anchor="middle" fill="#2a1210" font-weight="normal" textLength="25.7" lengthAdjust="spacingAndGlyphs" stroke="#2a1210" stroke-width="0.25" >gian</text>
<text x="93.8" y="530.8" font-size="12.6" text-anchor="middle" fill="#2a1210" font-weight="normal" textLength="41.3" lengthAdjust="spacingAndGlyphs" stroke="#2a1210" stroke-width="0.25" >Guada-</text>
<text x="93.5" y="547.2" font-size="12.6" text-anchor="middle" fill="#2a1210" font-weight="normal" textLength="39.0" lengthAdjust="spacingAndGlyphs" stroke="#2a1210" stroke-width="0.25" >Lupian</text>
<text x="94.0" y="643.0" font-size="12.6" text-anchor="middle" fill="#2a1210" font-weight="normal" textLength="22.5" lengthAdjust="spacingAndGlyphs" stroke="#2a1210" stroke-width="0.25" >Cis-</text>
<text x="93.9" y="659.0" font-size="12.6" text-anchor="middle" fill="#2a1210" font-weight="normal" textLength="39.5" lengthAdjust="spacingAndGlyphs" stroke="#2a1210" stroke-width="0.25" >uralian</text>
<text x="94.4" y="916.0" font-size="11.6" text-anchor="middle" fill="#1a2a1a" font-weight="normal" textLength="40.5" lengthAdjust="spacingAndGlyphs" stroke="#1a2a1a" stroke-width="0.25" >Mississi-</text>
<text x="94.0" y="930.0" font-size="11.6" text-anchor="middle" fill="#1a2a1a" font-weight="normal" textLength="27.5" lengthAdjust="spacingAndGlyphs" stroke="#1a2a1a" stroke-width="0.25" >ppian</text>
<text x="164.6" y="150.2" font-size="17.0" text-anchor="middle" fill="#fff" font-weight="bold" textLength="45.7" lengthAdjust="spacingAndGlyphs" >CA(u)</text>
<rect x="125.0" y="170.7" width="16.0" height="8.2" fill="#1c1a1b" />
<ellipse cx="133.0" cy="174.8" rx="4.3" ry="4.1" fill="#fff"/>
<text x="144.6" y="177.9" font-size="12.6" text-anchor="start" fill="#231f20" font-weight="normal" textLength="13.0" lengthAdjust="spacingAndGlyphs" stroke="#231f20" stroke-width="0.25" >15</text>
<rect x="125.0" y="183.3" width="16.0" height="8.4" fill="#1c1a1b" />
<ellipse cx="133.0" cy="187.5" rx="4.3" ry="4.2" fill="#fff"/>
<text x="144.6" y="191.4" font-size="12.6" text-anchor="start" fill="#231f20" font-weight="normal" textLength="13.0" lengthAdjust="spacingAndGlyphs" stroke="#231f20" stroke-width="0.25" >15</text>
<rect x="125.0" y="203.1" width="16.0" height="8.5" fill="#1c1a1b" />
<ellipse cx="133.0" cy="207.3" rx="4.3" ry="4.2" fill="#fff"/>
<text x="144.6" y="211.0" font-size="12.6" text-anchor="start" fill="#231f20" font-weight="normal" textLength="13.0" lengthAdjust="spacingAndGlyphs" stroke="#231f20" stroke-width="0.25" >15</text>
<text x="173.7" y="258.6" font-size="15.3" text-anchor="middle" fill="#231f20" font-weight="normal" textLength="61.6" lengthAdjust="spacing" >Carnian</text>
<text x="174.0" y="280.2" font-size="15.3" text-anchor="middle" fill="#231f20" font-weight="normal" textLength="108.2" lengthAdjust="spacing" >unconformity</text>
<line x1="213" y1="286.8" x2="218.3" y2="318" stroke="#1c1a1b" stroke-width="1.5"/>
<path d="M210.2,313.5 Q215.5,314.5 219,321.8 Q220.5,314 224.9,312.2 Q219.5,314.3 217.3,315.7 Q215,313.8 210.2,313.5Z" fill="#1c1a1b" stroke="#1c1a1b" stroke-width="1"/>
<text x="164.5" y="362.4" font-size="17.0" text-anchor="middle" fill="#fff" font-weight="bold" textLength="39.0" lengthAdjust="spacingAndGlyphs" >CA(l)</text>
<rect x="131.1" y="394" width="2.8" height="122" fill="#1c1a1b"/>
<polyline points="129.3,397.3 132.5,392 135.7,397.3" fill="none" stroke="#1c1a1b" stroke-width="2.4"/>
<rect x="124.9" y="515.8" width="15.8" height="8.0" fill="#1c1a1b" />
<ellipse cx="132.8" cy="519.8" rx="4.3" ry="4.0" fill="#fff"/>
<text x="145.5" y="523.5" font-size="12.6" text-anchor="start" fill="#231f20" font-weight="normal" textLength="13.0" lengthAdjust="spacingAndGlyphs" stroke="#231f20" stroke-width="0.25" >15</text>
<rect x="131.3" y="571.0" width="15.7" height="8.6" fill="#1c1a1b" />
<ellipse cx="139.2" cy="575.3" rx="4.2" ry="4.3" fill="#fff"/>
<text x="150.0" y="579.3" font-size="12.6" text-anchor="start" fill="#231f20" font-weight="normal" textLength="13.0" lengthAdjust="spacingAndGlyphs" stroke="#231f20" stroke-width="0.25" >14</text>
<rect x="131.3" y="693.0" width="15.7" height="8.0" fill="#1c1a1b" />
<ellipse cx="139.2" cy="697.0" rx="4.2" ry="4.0" fill="#fff"/>
<text x="139.5" y="690.4" font-size="12.6" text-anchor="middle" fill="#231f20" font-weight="normal" textLength="13.0" lengthAdjust="spacingAndGlyphs" stroke="#231f20" stroke-width="0.25" >14</text>
<rect x="155.0" y="693.0" width="16.0" height="8.0" fill="#1c1a1b" />
<ellipse cx="163.0" cy="697.0" rx="4.3" ry="4.0" fill="#fff"/>
<text x="163.5" y="690.4" font-size="12.6" text-anchor="middle" fill="#231f20" font-weight="normal" textLength="13.0" lengthAdjust="spacingAndGlyphs" stroke="#231f20" stroke-width="0.25" >14</text>
<rect x="180.0" y="685.4" width="16.0" height="8.6" fill="#1c1a1b" />
<ellipse cx="188.0" cy="689.7" rx="4.3" ry="4.3" fill="#fff"/>
<text x="188.5" y="682.0" font-size="12.6" text-anchor="middle" fill="#231f20" font-weight="normal" textLength="13.0" lengthAdjust="spacingAndGlyphs" stroke="#231f20" stroke-width="0.25" >14</text>
<text x="164.8" y="782.0" font-size="17.0" text-anchor="middle" fill="#fff" font-weight="bold" textLength="52.5" lengthAdjust="spacingAndGlyphs" >LL/MC</text>
<rect x="199.3" y="772.0" width="15.7" height="7.8" fill="#1c1a1b" />
<text x="208.0" y="767.4" font-size="12.6" text-anchor="middle" fill="#231f20" font-weight="normal" textLength="13.0" lengthAdjust="spacingAndGlyphs" stroke="#231f20" stroke-width="0.25" >14</text>
<rect x="138.0" y="869.0" width="15.8" height="7.8" fill="#1c1a1b" />
<text x="160.8" y="876.0" font-size="12.6" text-anchor="start" fill="#231f20" font-weight="normal" textLength="13.0" lengthAdjust="spacingAndGlyphs" stroke="#231f20" stroke-width="0.25" >14</text>
<text x="250.5" y="233.1" font-size="17.0" text-anchor="middle" fill="#fff" font-weight="bold" textLength="26.4" lengthAdjust="spacingAndGlyphs" >M5</text>
<rect x="241.1" y="180.4" width="16.9" height="16.1" fill="#1c1a1b" />
<text x="237.0" y="186.6" font-size="11.0" text-anchor="start" fill="#231f20" font-weight="normal" textLength="6.5" lengthAdjust="spacingAndGlyphs" stroke="#231f20" stroke-width="0.25" >1</text>
<text x="260.8" y="196.0" font-size="11.0" text-anchor="start" fill="#231f20" font-weight="normal" textLength="6.5" lengthAdjust="spacingAndGlyphs" stroke="#231f20" stroke-width="0.25" >1</text>
<rect x="326.0" y="167.3" width="16.0" height="7.5" fill="#1c1a1b" />
<text x="319.6" y="174.8" font-size="12.6" text-anchor="start" fill="#231f20" font-weight="normal" textLength="6.5" lengthAdjust="spacingAndGlyphs" stroke="#231f20" stroke-width="0.25" >1</text>
<rect x="276.4" y="203.5" width="16.3" height="8.0" fill="#1c1a1b" />
<text x="268.5" y="211.5" font-size="12.6" text-anchor="start" fill="#231f20" font-weight="normal" textLength="6.5" lengthAdjust="spacingAndGlyphs" stroke="#231f20" stroke-width="0.25" >3</text>
<rect x="326.0" y="205.3" width="16.0" height="7.0" fill="#1c1a1b" />
<text x="319.6" y="208.0" font-size="12.6" text-anchor="start" fill="#231f20" font-weight="normal" textLength="6.5" lengthAdjust="spacingAndGlyphs" stroke="#231f20" stroke-width="0.25" >1</text>
<rect x="302.7" y="216.2" width="16.3" height="7.3" fill="#1c1a1b" />
<text x="295.5" y="223.0" font-size="12.6" text-anchor="start" fill="#231f20" font-weight="normal" textLength="6.5" lengthAdjust="spacingAndGlyphs" stroke="#231f20" stroke-width="0.25" >4</text>
<rect x="326.0" y="216.2" width="16.0" height="7.3" fill="#1c1a1b" />
<text x="319.6" y="223.5" font-size="12.6" text-anchor="start" fill="#231f20" font-weight="normal" textLength="6.5" lengthAdjust="spacingAndGlyphs" stroke="#231f20" stroke-width="0.25" >1</text>
<rect x="276.4" y="228.8" width="16.3" height="7.5" fill="#1c1a1b" />
<text x="268.5" y="236.3" font-size="12.6" text-anchor="start" fill="#231f20" font-weight="normal" textLength="6.5" lengthAdjust="spacingAndGlyphs" stroke="#231f20" stroke-width="0.25" >3</text>
<rect x="276.4" y="239.7" width="16.3" height="7.9" fill="#1c1a1b" />
<text x="268.5" y="247.6" font-size="12.6" text-anchor="start" fill="#231f20" font-weight="normal" textLength="6.5" lengthAdjust="spacingAndGlyphs" stroke="#231f20" stroke-width="0.25" >2</text>
<text x="294.6" y="247.6" font-size="12.6" text-anchor="start" fill="#231f20" font-weight="normal" textLength="6.5" lengthAdjust="spacingAndGlyphs" stroke="#231f20" stroke-width="0.25" >3</text>
<rect x="326.0" y="236.3" width="16.0" height="7.1" fill="#1c1a1b" />
<text x="319.6" y="243.4" font-size="12.6" text-anchor="start" fill="#231f20" font-weight="normal" textLength="6.5" lengthAdjust="spacingAndGlyphs" stroke="#231f20" stroke-width="0.25" >1</text>
<rect x="276.4" y="255.0" width="16.3" height="7.6" fill="#1c1a1b" />
<text x="268.5" y="262.6" font-size="12.6" text-anchor="start" fill="#231f20" font-weight="normal" textLength="6.5" lengthAdjust="spacingAndGlyphs" stroke="#231f20" stroke-width="0.25" >2</text>
<text x="285.2" y="285.1" font-size="17.0" text-anchor="middle" fill="#fff" font-weight="bold" textLength="45.2" lengthAdjust="spacingAndGlyphs" >LT/PB</text>
<rect x="245.8" y="294.0" width="16.0" height="7.6" fill="#1c1a1b" />
<text x="239.2" y="301.6" font-size="12.6" text-anchor="start" fill="#231f20" font-weight="normal" textLength="6.5" lengthAdjust="spacingAndGlyphs" stroke="#231f20" stroke-width="0.25" >3</text>
<rect x="245.8" y="307.2" width="16.0" height="7.9" fill="#1c1a1b" />
<text x="239.2" y="315.1" font-size="12.6" text-anchor="start" fill="#231f20" font-weight="normal" textLength="6.5" lengthAdjust="spacingAndGlyphs" stroke="#231f20" stroke-width="0.25" >3</text>
<rect x="264.0" y="305.3" width="16.9" height="7.0" fill="#1c1a1b" />
<text x="284.0" y="312.3" font-size="12.6" text-anchor="start" fill="#231f20" font-weight="normal" textLength="6.5" lengthAdjust="spacingAndGlyphs" stroke="#231f20" stroke-width="0.25" >2</text>
<text x="293.4" y="356.6" font-size="17.0" text-anchor="middle" fill="#fff" font-weight="bold" textLength="45.7" lengthAdjust="spacingAndGlyphs" >PTrgs</text>
<rect x="320.3" y="336.0" width="15.6" height="7.5" fill="#1c1a1b" />
<text x="313.2" y="343.5" font-size="12.6" text-anchor="start" fill="#231f20" font-weight="normal" textLength="6.5" lengthAdjust="spacingAndGlyphs" stroke="#231f20" stroke-width="0.25" >4</text>
<rect x="320.3" y="363.5" width="15.6" height="7.2" fill="#1c1a1b" />
<text x="313.2" y="370.7" font-size="12.6" text-anchor="start" fill="#231f20" font-weight="normal" textLength="6.5" lengthAdjust="spacingAndGlyphs" stroke="#231f20" stroke-width="0.25" >4</text>
<rect x="320.3" y="375.9" width="15.6" height="7.9" fill="#1c1a1b" />
<text x="313.2" y="383.8" font-size="12.6" text-anchor="start" fill="#231f20" font-weight="normal" textLength="6.5" lengthAdjust="spacingAndGlyphs" stroke="#231f20" stroke-width="0.25" >4</text>
<rect x="320.3" y="404.4" width="15.6" height="7.6" fill="#1c1a1b" />
<text x="313.2" y="412.0" font-size="12.6" text-anchor="start" fill="#231f20" font-weight="normal" textLength="6.5" lengthAdjust="spacingAndGlyphs" stroke="#231f20" stroke-width="0.25" >4</text>
<rect x="320.3" y="433.0" width="15.6" height="7.5" fill="#1c1a1b" />
<text x="313.2" y="440.5" font-size="12.6" text-anchor="start" fill="#231f20" font-weight="normal" textLength="6.5" lengthAdjust="spacingAndGlyphs" stroke="#231f20" stroke-width="0.25" >4</text>
<rect x="320.3" y="417.2" width="15.6" height="8.2" fill="#1c1a1b" />
<text x="338.2" y="425.4" font-size="12.6" text-anchor="start" fill="#231f20" font-weight="normal" textLength="6.5" lengthAdjust="spacingAndGlyphs" stroke="#231f20" stroke-width="0.25" >4</text>
<rect x="297.0" y="415.3" width="15.4" height="8.3" fill="#1c1a1b" />
<text x="290.5" y="423.6" font-size="12.6" text-anchor="start" fill="#231f20" font-weight="normal" textLength="6.5" lengthAdjust="spacingAndGlyphs" stroke="#231f20" stroke-width="0.25" >4</text>
<rect x="278.3" y="438.2" width="15.4" height="7.8" fill="#1c1a1b" />
<text x="269.5" y="446.0" font-size="12.6" text-anchor="start" fill="#231f20" font-weight="normal" textLength="6.5" lengthAdjust="spacingAndGlyphs" stroke="#231f20" stroke-width="0.25" >3</text>
<rect x="278.3" y="448.0" width="15.4" height="8.6" fill="#1c1a1b" />
<text x="269.5" y="456.6" font-size="12.6" text-anchor="start" fill="#231f20" font-weight="normal" textLength="6.5" lengthAdjust="spacingAndGlyphs" stroke="#231f20" stroke-width="0.25" >3</text>
<text x="249.3" y="392.8" font-size="12.9" text-anchor="middle" fill="#fff" font-weight="bold" textLength="31.2" lengthAdjust="spacingAndGlyphs" >M1-4</text>
<text x="241.2" y="418.0" font-size="12.6" text-anchor="middle" fill="#231f20" font-weight="normal" textLength="13.0" lengthAdjust="spacingAndGlyphs" stroke="#231f20" stroke-width="0.25" >15</text>
<rect x="234.2" y="419.4" width="15.8" height="7.9" fill="#1c1a1b" />
<ellipse cx="242.1" cy="423.4" rx="4.3" ry="4.0" fill="#fff"/>
<text x="241.2" y="439.1" font-size="12.6" text-anchor="middle" fill="#231f20" font-weight="normal" textLength="13.0" lengthAdjust="spacingAndGlyphs" stroke="#231f20" stroke-width="0.25" >15</text>
<rect x="234.2" y="441.0" width="15.8" height="7.5" fill="#1c1a1b" />
<ellipse cx="242.1" cy="444.8" rx="4.3" ry="3.8" fill="#fff"/>
<path d="M266.5,367 L266.5,431 Q266.5,443 253.5,447.5" fill="none" stroke="#1c1a1b" stroke-width="4.1"/>
<path d="M260,396 L260,436 L253.3,422.2" fill="none" stroke="#1f3550" stroke-width="1.1"/>
<text x="264.8" y="566.5" font-size="17.0" text-anchor="middle" fill="#fff" font-weight="bold" textLength="30.5" lengthAdjust="spacingAndGlyphs" >LCh</text>
<rect x="259.6" y="520.6" width="14.7" height="6.3" fill="#fff" stroke="#1c1a1b" stroke-width="1.2"/>
<line x1="260.0" y1="521.0" x2="273.9" y2="526.5" stroke="#1c1a1b" stroke-width="1"/>
<text x="244.9" y="527.8" font-size="12.6" text-anchor="start" fill="#231f20" font-weight="normal" textLength="13.0" lengthAdjust="spacingAndGlyphs" stroke="#231f20" stroke-width="0.25" >11</text>
<rect x="302.0" y="512.1" width="17.4" height="7.9" fill="#1c1a1b" />
<text x="294.6" y="520.0" font-size="12.6" text-anchor="start" fill="#231f20" font-weight="normal" textLength="6.5" lengthAdjust="spacingAndGlyphs" stroke="#231f20" stroke-width="0.25" >4</text>
<rect x="302.0" y="536.0" width="17.4" height="7.8" fill="#1c1a1b" />
<text x="294.6" y="543.8" font-size="12.6" text-anchor="start" fill="#231f20" font-weight="normal" textLength="6.5" lengthAdjust="spacingAndGlyphs" stroke="#231f20" stroke-width="0.25" >4</text>
<rect x="302.0" y="588.0" width="17.4" height="8.0" fill="#1c1a1b" />
<text x="294.6" y="596.0" font-size="12.6" text-anchor="start" fill="#231f20" font-weight="normal" textLength="6.5" lengthAdjust="spacingAndGlyphs" stroke="#231f20" stroke-width="0.25" >4</text>
<rect x="276.4" y="751.6" width="16.3" height="7.8" fill="#1c1a1b" />
<text x="268.5" y="759.4" font-size="12.6" text-anchor="start" fill="#231f20" font-weight="normal" textLength="6.5" lengthAdjust="spacingAndGlyphs" stroke="#231f20" stroke-width="0.25" >2</text>
<rect x="276.4" y="772.2" width="16.3" height="7.5" fill="#1c1a1b" />
<text x="268.5" y="779.7" font-size="12.6" text-anchor="start" fill="#231f20" font-weight="normal" textLength="6.5" lengthAdjust="spacingAndGlyphs" stroke="#231f20" stroke-width="0.25" >2</text>
<rect x="326.0" y="751.6" width="16.0" height="7.8" fill="#1c1a1b" />
<text x="319.6" y="759.4" font-size="12.6" text-anchor="start" fill="#231f20" font-weight="normal" textLength="6.5" lengthAdjust="spacingAndGlyphs" stroke="#231f20" stroke-width="0.25" >1</text>
<text x="284.5" y="815.3" font-size="17.0" text-anchor="middle" fill="#fff" font-weight="bold" textLength="23.0" lengthAdjust="spacingAndGlyphs" >CB</text>
<rect x="326.1" y="895.1" width="15.8" height="8.6" fill="#1c1a1b" />
<text x="319.6" y="903.7" font-size="12.6" text-anchor="start" fill="#231f20" font-weight="normal" textLength="6.5" lengthAdjust="spacingAndGlyphs" stroke="#231f20" stroke-width="0.25" >1</text>
<rect x="326.1" y="906.0" width="15.8" height="7.8" fill="#1c1a1b" />
<text x="319.6" y="913.8" font-size="12.6" text-anchor="start" fill="#231f20" font-weight="normal" textLength="6.5" lengthAdjust="spacingAndGlyphs" stroke="#231f20" stroke-width="0.25" >1</text>
<text x="399.0" y="255.4" font-size="17.0" text-anchor="middle" fill="#fff" font-weight="bold" textLength="22.1" lengthAdjust="spacingAndGlyphs" >RL</text>
<rect x="395.1" y="570.6" width="15.9" height="8.2" fill="#1c1a1b" />
<text x="387.6" y="578.8" font-size="12.6" text-anchor="start" fill="#231f20" font-weight="normal" textLength="6.5" lengthAdjust="spacingAndGlyphs" stroke="#231f20" stroke-width="0.25" >5</text>
<text x="403.0" y="614.4" font-size="17.0" text-anchor="middle" fill="#fff" font-weight="bold" textLength="25.3" lengthAdjust="spacingAndGlyphs" >CH</text>
<text x="403.0" y="815.2" font-size="17.0" text-anchor="middle" fill="#fff" font-weight="bold" textLength="36.5" lengthAdjust="spacingAndGlyphs" >CAN</text>
<rect x="491.1" y="332.0" width="14.0" height="7.1" fill="#fff" stroke="#1c1a1b" stroke-width="1.2"/>
<text x="482.5" y="339.7" font-size="12.6" text-anchor="start" fill="#231f20" font-weight="normal" textLength="6.5" lengthAdjust="spacingAndGlyphs" stroke="#231f20" stroke-width="0.25" >9</text>
<text x="521.5" y="382.0" font-size="17.0" text-anchor="middle" fill="#fff" font-weight="bold" textLength="22.5" lengthAdjust="spacingAndGlyphs" >PV</text>
<rect x="517.8" y="436.9" width="15.5" height="6.9" fill="#fff" stroke="#1c1a1b" stroke-width="1.2"/>
<text x="536.4" y="447.0" font-size="12.6" text-anchor="start" fill="#231f20" font-weight="normal" textLength="6.5" lengthAdjust="spacingAndGlyphs" stroke="#231f20" stroke-width="0.25" >6</text>
<rect x="471.9" y="468.8" width="14.4" height="6.5" fill="#fff" stroke="#1c1a1b" stroke-width="1.2"/>
<text x="490.9" y="475.9" font-size="12.6" text-anchor="start" fill="#231f20" font-weight="normal" textLength="6.5" lengthAdjust="spacingAndGlyphs" stroke="#231f20" stroke-width="0.25" >7</text>
<rect x="471.9" y="507.8" width="14.4" height="6.3" fill="#fff" stroke="#1c1a1b" stroke-width="1.2"/>
<text x="487.3" y="514.7" font-size="12.6" text-anchor="start" fill="#231f20" font-weight="normal" textLength="6.5" lengthAdjust="spacingAndGlyphs" stroke="#231f20" stroke-width="0.25" >7</text>
<rect x="469.8" y="539.7" width="15.5" height="6.5" fill="#fff" stroke="#1c1a1b" stroke-width="1.2"/>
<text x="486.9" y="546.8" font-size="12.6" text-anchor="start" fill="#231f20" font-weight="normal" textLength="6.5" lengthAdjust="spacingAndGlyphs" stroke="#231f20" stroke-width="0.25" >7</text>
<rect x="514.0" y="519.9" width="15.1" height="6.1" fill="#fff" stroke="#1c1a1b" stroke-width="1.2"/>
<text x="505.5" y="526.6" font-size="12.6" text-anchor="start" fill="#231f20" font-weight="normal" textLength="6.5" lengthAdjust="spacingAndGlyphs" stroke="#231f20" stroke-width="0.25" >6</text>
<rect x="544.3" y="518.2" width="13.8" height="6.7" fill="#fff" stroke="#1c1a1b" stroke-width="1.2"/>
<text x="536.4" y="525.5" font-size="12.6" text-anchor="start" fill="#231f20" font-weight="normal" textLength="6.5" lengthAdjust="spacingAndGlyphs" stroke="#231f20" stroke-width="0.25" >6</text>
<rect x="556.2" y="507.8" width="15.6" height="7.7" fill="#1c1a1b" />
<text x="548.9" y="515.5" font-size="12.6" text-anchor="start" fill="#231f20" font-weight="normal" textLength="6.5" lengthAdjust="spacingAndGlyphs" stroke="#231f20" stroke-width="0.25" >8</text>
<text x="513.5" y="608.0" font-size="17.0" text-anchor="middle" fill="#fff" font-weight="bold" textLength="23.9" lengthAdjust="spacingAndGlyphs" >CH</text>
<rect x="555.9" y="627.3" width="14.2" height="5.2" fill="#fff" stroke="#1c1a1b" stroke-width="1.2"/>
<text x="548.1" y="634.0" font-size="12.6" text-anchor="start" fill="#231f20" font-weight="normal" textLength="6.5" lengthAdjust="spacingAndGlyphs" stroke="#231f20" stroke-width="0.25" >6</text>
<text x="521.4" y="802.7" font-size="17.0" text-anchor="middle" fill="#fff" font-weight="bold" textLength="4.8" lengthAdjust="spacingAndGlyphs" >I</text>
<text x="638.3" y="229.4" font-size="17.0" text-anchor="middle" fill="#fff" font-weight="bold" textLength="14.6" lengthAdjust="spacingAndGlyphs" >M</text>
<rect x="601.0" y="296.9" width="15.0" height="5.9" fill="#fff" stroke="#1c1a1b" stroke-width="1.2"/>
<text x="617.6" y="303.4" font-size="12.6" text-anchor="start" fill="#231f20" font-weight="normal" textLength="13.0" lengthAdjust="spacingAndGlyphs" stroke="#231f20" stroke-width="0.25" >11</text>
<rect x="640.4" y="294.3" width="16.2" height="7.1" fill="#1c1a1b" />
<text x="648.5" y="291.9" font-size="12.6" text-anchor="middle" fill="#231f20" font-weight="normal" textLength="13.0" lengthAdjust="spacingAndGlyphs" stroke="#231f20" stroke-width="0.25" >13</text>
<rect x="662.8" y="294.9" width="14.3" height="5.9" fill="#fff" stroke="#1c1a1b" stroke-width="1.2"/>
<text x="678.4" y="303.0" font-size="12.6" text-anchor="start" fill="#231f20" font-weight="normal" textLength="13.0" lengthAdjust="spacingAndGlyphs" stroke="#231f20" stroke-width="0.25" >13</text>
<text x="637.7" y="329.1" font-size="17.0" text-anchor="middle" fill="#fff" font-weight="bold" textLength="30.3" lengthAdjust="spacingAndGlyphs" >U/C</text>
<rect x="597.0" y="354.3" width="14.1" height="6.4" fill="#fff" stroke="#1c1a1b" stroke-width="1.2"/>
<text x="603.2" y="351.7" font-size="12.6" text-anchor="middle" fill="#231f20" font-weight="normal" textLength="13.0" lengthAdjust="spacingAndGlyphs" stroke="#231f20" stroke-width="0.25" >11</text>
<rect x="615.8" y="356.9" width="14.1" height="6.7" fill="#fff" stroke="#1c1a1b" stroke-width="1.2"/>
<text x="622.8" y="354.9" font-size="12.6" text-anchor="middle" fill="#231f20" font-weight="normal" textLength="13.0" lengthAdjust="spacingAndGlyphs" stroke="#231f20" stroke-width="0.25" >11</text>
<rect x="633.0" y="352.3" width="16.9" height="8.0" fill="#1c1a1b" />
<text x="641.5" y="350.4" font-size="12.6" text-anchor="middle" fill="#231f20" font-weight="normal" textLength="13.0" lengthAdjust="spacingAndGlyphs" stroke="#231f20" stroke-width="0.25" >13</text>
<rect x="657.8" y="355.9" width="14.1" height="5.7" fill="#fff" stroke="#1c1a1b" stroke-width="1.2"/>
<text x="664.8" y="353.0" font-size="12.6" text-anchor="middle" fill="#231f20" font-weight="normal" textLength="13.0" lengthAdjust="spacingAndGlyphs" stroke="#231f20" stroke-width="0.25" >13</text>
<rect x="677.6" y="355.9" width="14.1" height="5.7" fill="#fff" stroke="#1c1a1b" stroke-width="1.2"/>
<text x="684.7" y="353.0" font-size="12.6" text-anchor="middle" fill="#231f20" font-weight="normal" textLength="13.0" lengthAdjust="spacingAndGlyphs" stroke="#231f20" stroke-width="0.25" >13</text>
<rect x="615.8" y="378.7" width="14.1" height="6.1" fill="#fff" stroke="#1c1a1b" stroke-width="1.2"/>
<text x="632.9" y="385.4" font-size="12.6" text-anchor="start" fill="#231f20" font-weight="normal" textLength="13.0" lengthAdjust="spacingAndGlyphs" stroke="#231f20" stroke-width="0.25" >12</text>
<rect x="654.9" y="400.9" width="15.0" height="6.3" fill="#fff" stroke="#1c1a1b" stroke-width="1.2"/>
<text x="672.5" y="407.8" font-size="12.6" text-anchor="start" fill="#231f20" font-weight="normal" textLength="13.0" lengthAdjust="spacingAndGlyphs" stroke="#231f20" stroke-width="0.25" >13</text>
<path d="M589.9,346.4 L589.9,409 Q590.5,420 603.7,425.7" fill="none" stroke="#1c1a1b" stroke-width="4.1"/>
<path d="M596.8,374.7 L596.8,416.7 L603.1,401.3" fill="none" stroke="#1f3550" stroke-width="1.1"/>
<text x="645.0" y="515.5" font-size="17.0" text-anchor="middle" fill="#fff" font-weight="bold" textLength="24.9" lengthAdjust="spacingAndGlyphs" >CH</text>
<rect x="654.7" y="532.8" width="14.4" height="6.4" fill="#fff" stroke="#1c1a1b" stroke-width="1.2"/>
<text x="672.5" y="539.8" font-size="12.6" text-anchor="start" fill="#231f20" font-weight="normal" textLength="13.0" lengthAdjust="spacingAndGlyphs" stroke="#231f20" stroke-width="0.25" >13</text>
<rect x="637.5" y="574.8" width="14.9" height="6.2" fill="#fff" stroke="#1c1a1b" stroke-width="1.2"/>
<text x="623.6" y="581.6" font-size="12.6" text-anchor="start" fill="#231f20" font-weight="normal" textLength="13.0" lengthAdjust="spacingAndGlyphs" stroke="#231f20" stroke-width="0.25" >10</text>
<rect x="637.5" y="617.9" width="14.9" height="7.1" fill="#fff" stroke="#1c1a1b" stroke-width="1.2"/>
<text x="623.6" y="625.6" font-size="12.6" text-anchor="start" fill="#231f20" font-weight="normal" textLength="13.0" lengthAdjust="spacingAndGlyphs" stroke="#231f20" stroke-width="0.25" >10</text>
<text x="640.2" y="779.9" font-size="17.0" text-anchor="middle" fill="#fff" font-weight="bold" textLength="52.1" lengthAdjust="spacingAndGlyphs" >SE/SM</text>
<text x="371.6" y="418.0" font-size="19.5" fill="#fff" stroke="#fff" stroke-width="3.2" stroke-linejoin="round" textLength="154.7" lengthAdjust="spacing">Huárpica phase</text>
<text x="371.6" y="418.0" font-size="19.5" fill="#231f20" stroke="#231f20" stroke-width="0.45" textLength="154.7" lengthAdjust="spacing">Huárpica phase</text>
<text x="369.1" y="642.9" font-size="19.5" fill="#fff" stroke="#fff" stroke-width="3.2" stroke-linejoin="round" textLength="170.3" lengthAdjust="spacing">San Rafael phase</text>
<text x="369.1" y="642.9" font-size="19.5" fill="#231f20" stroke="#231f20" stroke-width="0.45" textLength="170.3" lengthAdjust="spacing">San Rafael phase</text>
<text x="726.0" y="51.1" font-size="12.3" text-anchor="middle" fill="#231f20" font-weight="bold" textLength="32.4" lengthAdjust="spacingAndGlyphs" >CA(u)</text>
<text x="726.0" y="81.2" font-size="12.3" text-anchor="middle" fill="#231f20" font-weight="bold" textLength="28.3" lengthAdjust="spacingAndGlyphs" >CA(l)</text>
<text x="726.0" y="104.0" font-size="12.3" text-anchor="middle" fill="#231f20" font-weight="bold" textLength="25.9" lengthAdjust="spacingAndGlyphs" >CAN</text>
<text x="726.0" y="121.6" font-size="12.3" text-anchor="middle" fill="#231f20" font-weight="bold" textLength="15.8" lengthAdjust="spacingAndGlyphs" >CB</text>
<text x="726.0" y="139.6" font-size="12.3" text-anchor="middle" fill="#231f20" font-weight="bold" textLength="17.2" lengthAdjust="spacingAndGlyphs" >CH</text>
<text x="726.0" y="157.9" font-size="12.3" text-anchor="middle" fill="#231f20" font-weight="bold" textLength="3.0" lengthAdjust="spacingAndGlyphs" >I</text>
<text x="726.0" y="176.2" font-size="12.3" text-anchor="middle" fill="#231f20" font-weight="bold" textLength="21.8" lengthAdjust="spacingAndGlyphs" >LCh</text>
<text x="726.3" y="202.1" font-size="12.3" text-anchor="middle" fill="#231f20" font-weight="bold" textLength="37.6" lengthAdjust="spacingAndGlyphs" >LL/MC</text>
<text x="722.7" y="234.3" font-size="12.3" text-anchor="middle" fill="#231f20" font-weight="bold" textLength="32.2" lengthAdjust="spacingAndGlyphs" >LT/PB</text>
<text x="726.0" y="256.9" font-size="12.3" text-anchor="middle" fill="#231f20" font-weight="bold" textLength="10.6" lengthAdjust="spacingAndGlyphs" >M</text>
<text x="726.0" y="281.1" font-size="12.3" text-anchor="middle" fill="#231f20" font-weight="bold" textLength="31.2" lengthAdjust="spacingAndGlyphs" >M1-4</text>
<text x="726.0" y="310.0" font-size="12.3" text-anchor="middle" fill="#231f20" font-weight="bold" textLength="18.3" lengthAdjust="spacingAndGlyphs" >M5</text>
<text x="726.0" y="334.0" font-size="12.3" text-anchor="middle" fill="#231f20" font-weight="bold" textLength="32.4" lengthAdjust="spacingAndGlyphs" >PTrgs</text>
<text x="726.0" y="352.6" font-size="12.3" text-anchor="middle" fill="#231f20" font-weight="bold" textLength="15.3" lengthAdjust="spacingAndGlyphs" >PV</text>
<text x="726.0" y="369.8" font-size="12.3" text-anchor="middle" fill="#231f20" font-weight="bold" textLength="13.6" lengthAdjust="spacingAndGlyphs" >RL</text>
<text x="726.0" y="396.6" font-size="12.3" text-anchor="middle" fill="#231f20" font-weight="bold" textLength="36.7" lengthAdjust="spacingAndGlyphs" >SE/SM</text>
<text x="726.0" y="427.1" font-size="12.3" text-anchor="middle" fill="#231f20" font-weight="bold" textLength="19.5" lengthAdjust="spacingAndGlyphs" >U/C</text>
<text x="753.5" y="46.9" font-size="12.2" text-anchor="start" fill="#231f20" font-weight="normal" textLength="112.5" lengthAdjust="spacingAndGlyphs" stroke="#231f20" stroke-width="0.25" >Canto del Agua Fm.</text>
<text x="753.5" y="55.8" font-size="12.2" text-anchor="start" fill="#231f20" font-weight="normal" textLength="86.5" lengthAdjust="spacingAndGlyphs" stroke="#231f20" stroke-width="0.25" >(upper section)</text>
<text x="753.5" y="75.1" font-size="12.2" text-anchor="start" fill="#231f20" font-weight="normal" textLength="112.5" lengthAdjust="spacingAndGlyphs" stroke="#231f20" stroke-width="0.25" >Canto del Agua Fm.</text>
<text x="753.5" y="85.2" font-size="12.2" text-anchor="start" fill="#231f20" font-weight="normal" textLength="86.2" lengthAdjust="spacingAndGlyphs" stroke="#231f20" stroke-width="0.25" >(lower section)</text>
<text x="753.5" y="104.0" font-size="12.2" text-anchor="start" fill="#231f20" font-weight="normal" textLength="126.1" lengthAdjust="spacingAndGlyphs" stroke="#231f20" stroke-width="0.25" >Cerro Agua Negra Fm.</text>
<text x="753.5" y="121.6" font-size="12.2" text-anchor="start" fill="#231f20" font-weight="normal" textLength="86.6" lengthAdjust="spacingAndGlyphs" stroke="#231f20" stroke-width="0.25" >Cerro Bayo Fm.</text>
<text x="753.5" y="139.6" font-size="12.2" text-anchor="start" fill="#231f20" font-weight="normal" textLength="83.8" lengthAdjust="spacingAndGlyphs" stroke="#231f20" stroke-width="0.25" >Choiyoi Group</text>
<text x="753.5" y="157.9" font-size="12.2" text-anchor="start" fill="#231f20" font-weight="normal" textLength="71.4" lengthAdjust="spacingAndGlyphs" stroke="#231f20" stroke-width="0.25" >Imperial Fm.</text>
<text x="753.5" y="176.2" font-size="12.2" text-anchor="start" fill="#231f20" font-weight="normal" textLength="101.9" lengthAdjust="spacingAndGlyphs" stroke="#231f20" stroke-width="0.25" >Laguna Chica Fm.</text>
<text x="753.5" y="194.3" font-size="12.2" text-anchor="start" fill="#231f20" font-weight="normal" textLength="152.4" lengthAdjust="spacingAndGlyphs" stroke="#231f20" stroke-width="0.25" >Llanos del Chocolate beds,</text>
<text x="753.5" y="209.6" font-size="12.2" text-anchor="start" fill="#231f20" font-weight="normal" textLength="88.5" lengthAdjust="spacingAndGlyphs" stroke="#231f20" stroke-width="0.25" >PCMC and CEC.</text>
<text x="750.7" y="228.4" font-size="12.2" text-anchor="start" fill="#231f20" font-weight="normal" textLength="117.2" lengthAdjust="spacingAndGlyphs" stroke="#231f20" stroke-width="0.25" >La Totora and Pastos</text>
<text x="750.7" y="239.0" font-size="12.2" text-anchor="start" fill="#231f20" font-weight="normal" textLength="71.8" lengthAdjust="spacingAndGlyphs" stroke="#231f20" stroke-width="0.25" >Blancos fms.</text>
<text x="754.2" y="256.9" font-size="12.2" text-anchor="start" fill="#231f20" font-weight="normal" textLength="97.2" lengthAdjust="spacingAndGlyphs" stroke="#231f20" stroke-width="0.25" >Marachemill unit</text>
<text x="754.2" y="274.8" font-size="12.2" text-anchor="start" fill="#231f20" font-weight="normal" textLength="127.8" lengthAdjust="spacingAndGlyphs" stroke="#231f20" stroke-width="0.25" >Members M1 to M4 of</text>
<text x="753.5" y="286.5" font-size="12.2" text-anchor="start" fill="#231f20" font-weight="normal" textLength="97.2" lengthAdjust="spacingAndGlyphs" stroke="#231f20" stroke-width="0.25" >the San Félix Fm.</text>
<text x="753.5" y="304.6" font-size="12.2" text-anchor="start" fill="#231f20" font-weight="normal" textLength="106.6" lengthAdjust="spacingAndGlyphs" stroke="#231f20" stroke-width="0.25" >M5 Member of the</text>
<text x="753.5" y="315.7" font-size="12.2" text-anchor="start" fill="#231f20" font-weight="normal" textLength="74.9" lengthAdjust="spacingAndGlyphs" stroke="#231f20" stroke-width="0.25" >San Félix Fm.</text>
<text x="753.5" y="334.0" font-size="12.2" text-anchor="start" fill="#231f20" font-weight="normal" textLength="113.6" lengthAdjust="spacingAndGlyphs" stroke="#231f20" stroke-width="0.25" >Guanaco Sonso Fm.</text>
<text x="753.5" y="352.6" font-size="12.2" text-anchor="start" fill="#231f20" font-weight="normal" textLength="112.5" lengthAdjust="spacingAndGlyphs" stroke="#231f20" stroke-width="0.25" >Puesto Viejo Group.</text>
<text x="753.5" y="369.8" font-size="12.2" text-anchor="start" fill="#231f20" font-weight="normal" textLength="112.5" lengthAdjust="spacingAndGlyphs" stroke="#231f20" stroke-width="0.25" >Rancho de Lata Fm.</text>
<text x="754.2" y="386.7" font-size="12.2" text-anchor="start" fill="#231f20" font-weight="normal" textLength="127.0" lengthAdjust="spacingAndGlyphs" stroke="#231f20" stroke-width="0.25" >Santa Elena and Santa</text>
<text x="753.5" y="403.6" font-size="12.2" text-anchor="start" fill="#231f20" font-weight="normal" textLength="72.1" lengthAdjust="spacingAndGlyphs" stroke="#231f20" stroke-width="0.25" >Máxima fms.</text>
<text x="753.5" y="421.9" font-size="12.2" text-anchor="start" fill="#231f20" font-weight="normal" textLength="111.3" lengthAdjust="spacingAndGlyphs" stroke="#231f20" stroke-width="0.25" >Uspallata and Cuyo</text>
<text x="753.5" y="431.3" font-size="12.2" text-anchor="start" fill="#231f20" font-weight="normal" textLength="44.8" lengthAdjust="spacingAndGlyphs" stroke="#231f20" stroke-width="0.25" >groups.</text>
<rect x="707.6" y="448.7" width="36.3" height="13.1" fill="#80ae72" />
<rect x="707.6" y="468.0" width="36.3" height="12.9" fill="#7eaac8" />
<text x="753.2" y="458.8" font-size="12.2" text-anchor="start" fill="#231f20" font-weight="normal" textLength="149.4" lengthAdjust="spacingAndGlyphs" stroke="#231f20" stroke-width="0.25" >Dominantly volcanic units</text>
<text x="753.2" y="478.6" font-size="12.2" text-anchor="start" fill="#231f20" font-weight="normal" textLength="141.4" lengthAdjust="spacingAndGlyphs" stroke="#231f20" stroke-width="0.25" xml:space="preserve">Dominantly  clastic units</text>
<path d="M715.9,488.2 L715.9,523 Q716.5,531.5 727.4,534.1" fill="none" stroke="#1c1a1b" stroke-width="3.4"/>
<path d="M721.7,492 L721.7,527.5 L726.7,515" fill="none" stroke="#1c1a1b" stroke-width="1"/>
<text x="753.9" y="505.4" font-size="12.2" text-anchor="start" fill="#231f20" font-weight="normal" textLength="140.7" lengthAdjust="spacingAndGlyphs" stroke="#231f20" stroke-width="0.25" >Units accommodated by</text>
<text x="753.9" y="515.7" font-size="12.2" text-anchor="start" fill="#231f20" font-weight="normal" textLength="76.0" lengthAdjust="spacingAndGlyphs" stroke="#231f20" stroke-width="0.25" >normal faults</text>
<polyline fill="none" stroke="#a2a2a2" stroke-width="4.6" points="705.0,546.94 706.0,546.64 707.0,546.51 708.0,546.54 709.0,546.74 710.0,547.11 711.0,547.61 712.0,548.24 713.0,548.96 714.0,549.75 715.0,550.56 716.0,551.37 717.0,552.13 718.0,552.82 719.0,553.41 720.0,553.86 721.0,554.16 722.0,554.29 723.0,554.26 724.0,554.06 725.0,553.69 726.0,553.19 727.0,552.56 728.0,551.84 729.0,551.05 730.0,550.24 731.0,549.43 732.0,548.67 733.0,547.98 734.0,547.39 735.0,546.94 736.0,546.64 737.0,546.51 738.0,546.54 739.0,546.74 740.0,547.11 741.0,547.61 742.0,548.24 743.0,548.96 744.0,549.75 745.0,550.56 746.0,551.37 747.0,552.13 748.0,552.82 748.5,553.13"/>
<polyline fill="none" stroke="#1c1a1b" stroke-width="4.8" points="705.0,579.24 706.0,578.94 707.0,578.81 708.0,578.84 709.0,579.04 710.0,579.41 711.0,579.91 712.0,580.54 713.0,581.26 714.0,582.05 715.0,582.86 716.0,583.67 717.0,584.43 718.0,585.12 719.0,585.71 720.0,586.16 721.0,586.46 722.0,586.59 723.0,586.56 724.0,586.36 725.0,585.99 726.0,585.49 727.0,584.86 728.0,584.14 729.0,583.35 730.0,582.54 731.0,581.73 732.0,580.97 733.0,580.28 734.0,579.69 735.0,579.24 736.0,578.94 737.0,578.81 738.0,578.84 739.0,579.04 740.0,579.41 741.0,579.91 742.0,580.54 743.0,581.26 744.0,582.05 745.0,582.86 746.0,583.67 747.0,584.43 748.0,585.12 748.5,585.43"/>
<text x="753.2" y="548.3" font-size="12.2" text-anchor="start" fill="#231f20" font-weight="normal" textLength="80.6" lengthAdjust="spacingAndGlyphs" stroke="#231f20" stroke-width="0.25" >Unconformity</text>
<text x="753.2" y="559.3" font-size="12.2" text-anchor="start" fill="#231f20" font-weight="normal" textLength="116.6" lengthAdjust="spacingAndGlyphs" stroke="#231f20" stroke-width="0.25" >(poorly constrained)</text>
<text x="753.2" y="580.5" font-size="12.2" text-anchor="start" fill="#231f20" font-weight="normal" textLength="80.6" lengthAdjust="spacingAndGlyphs" stroke="#231f20" stroke-width="0.25" >Unconformity</text>
<text x="753.2" y="591.5" font-size="12.2" text-anchor="start" fill="#231f20" font-weight="normal" textLength="102.4" lengthAdjust="spacingAndGlyphs" stroke="#231f20" stroke-width="0.25" >(well constrained)</text>
<text x="709.0" y="618.8" font-size="15.6" text-anchor="start" fill="#231f20" font-weight="bold" textLength="174.0" lengthAdjust="spacingAndGlyphs" >U-Pb dating methods</text>
<rect x="712.6" y="626.6" width="15.2" height="5.8" fill="#fff" stroke="#1c1a1b" stroke-width="1.2"/>
<text x="739.4" y="634.1" font-size="12.2" text-anchor="start" fill="#231f20" font-weight="normal" textLength="46.3" lengthAdjust="spacingAndGlyphs" stroke="#231f20" stroke-width="0.25" >SHRIMP</text>
<rect x="712.0" y="642.8" width="16.4" height="7.7" fill="#1c1a1b" />
<text x="738.3" y="650.0" font-size="12.2" text-anchor="start" fill="#231f20" font-weight="normal" textLength="61.6" lengthAdjust="spacingAndGlyphs" stroke="#231f20" stroke-width="0.25" >LA-ICP-MS</text>
<rect x="712.0" y="657.0" width="16.4" height="7.7" fill="#1c1a1b" />
<ellipse cx="720.2" cy="660.9" rx="4.4" ry="3.9" fill="#fff"/>
<text x="739.4" y="663.6" font-size="12.2" text-anchor="start" fill="#231f20" font-weight="normal" textLength="126.1" lengthAdjust="spacingAndGlyphs" stroke="#231f20" stroke-width="0.25" >Detrital zircons (MDA)</text>
<rect x="712.6" y="671.8" width="15.2" height="6.9" fill="#fff" stroke="#1c1a1b" stroke-width="1.2"/>
<line x1="713.0" y1="672.2" x2="727.4" y2="678.3" stroke="#1c1a1b" stroke-width="1"/>
<text x="738.3" y="678.9" font-size="12.2" text-anchor="start" fill="#231f20" font-weight="normal" textLength="78.0" lengthAdjust="spacingAndGlyphs" stroke="#231f20" stroke-width="0.25" >Conventional</text>
<text x="706.3" y="713.1" font-size="12.3" text-anchor="start" fill="#231f20" font-weight="normal" textLength="6.5" lengthAdjust="spacingAndGlyphs" stroke="#231f20" stroke-width="0.25" >1</text>
<text x="720.2" y="713.1" font-size="12.3" text-anchor="start" fill="#231f20" font-weight="normal" textLength="107.2" lengthAdjust="spacingAndGlyphs" stroke="#231f20" stroke-width="0.25" >Salazar <tspan font-style="italic">et al.</tspan>, 2013.</text>
<text x="706.3" y="730.0" font-size="12.3" text-anchor="start" fill="#231f20" font-weight="normal" textLength="6.5" lengthAdjust="spacingAndGlyphs" stroke="#231f20" stroke-width="0.25" >2</text>
<text x="719.7" y="730.0" font-size="12.3" text-anchor="start" fill="#231f20" font-weight="normal" textLength="117.2" lengthAdjust="spacingAndGlyphs" stroke="#231f20" stroke-width="0.25" >Maksaev <tspan font-style="italic">et al.</tspan>, 2014.</text>
<text x="706.3" y="745.8" font-size="12.3" text-anchor="start" fill="#231f20" font-weight="normal" textLength="6.5" lengthAdjust="spacingAndGlyphs" stroke="#231f20" stroke-width="0.25" >3</text>
<text x="719.7" y="745.8" font-size="12.3" text-anchor="start" fill="#231f20" font-weight="normal" textLength="134.9" lengthAdjust="spacingAndGlyphs" stroke="#231f20" stroke-width="0.25" >Ortiz and Merino, 2015.</text>
<text x="706.3" y="762.3" font-size="12.3" text-anchor="start" fill="#231f20" font-weight="normal" textLength="6.5" lengthAdjust="spacingAndGlyphs" stroke="#231f20" stroke-width="0.25" >4</text>
<text x="719.7" y="762.3" font-size="12.3" text-anchor="start" fill="#231f20" font-weight="normal" textLength="150.6" lengthAdjust="spacingAndGlyphs" stroke="#231f20" stroke-width="0.25" >Salazar and Coloma, 2016.</text>
<text x="706.3" y="778.6" font-size="12.3" text-anchor="start" fill="#231f20" font-weight="normal" textLength="6.5" lengthAdjust="spacingAndGlyphs" stroke="#231f20" stroke-width="0.25" >5</text>
<text x="719.7" y="778.6" font-size="12.3" text-anchor="start" fill="#231f20" font-weight="normal" textLength="93.5" lengthAdjust="spacingAndGlyphs" stroke="#231f20" stroke-width="0.25" >Sato <tspan font-style="italic">et al.</tspan>, 2015.</text>
<text x="706.3" y="794.4" font-size="12.3" text-anchor="start" fill="#231f20" font-weight="normal" textLength="6.5" lengthAdjust="spacingAndGlyphs" stroke="#231f20" stroke-width="0.25" >6</text>
<text x="720.2" y="794.4" font-size="12.3" text-anchor="start" fill="#231f20" font-weight="normal" textLength="153.4" lengthAdjust="spacingAndGlyphs" stroke="#231f20" stroke-width="0.25" >Rocha-Campos <tspan font-style="italic">et al.</tspan>, 2011.</text>
<text x="706.3" y="811.1" font-size="12.3" text-anchor="start" fill="#231f20" font-weight="normal" textLength="6.5" lengthAdjust="spacingAndGlyphs" stroke="#231f20" stroke-width="0.25" >7</text>
<text x="719.7" y="811.1" font-size="12.3" text-anchor="start" fill="#231f20" font-weight="normal" textLength="117.2" lengthAdjust="spacingAndGlyphs" stroke="#231f20" stroke-width="0.25" >Domeier <tspan font-style="italic">et al.</tspan>, 2011.</text>
<text x="706.3" y="827.8" font-size="12.3" text-anchor="start" fill="#231f20" font-weight="normal" textLength="6.5" lengthAdjust="spacingAndGlyphs" stroke="#231f20" stroke-width="0.25" >8</text>
<text x="719.7" y="827.8" font-size="12.3" text-anchor="start" fill="#231f20" font-weight="normal" textLength="107.7" lengthAdjust="spacingAndGlyphs" stroke="#231f20" stroke-width="0.25" >Gómez <tspan font-style="italic">et al.</tspan>, 2015.</text>
<text x="706.3" y="844.5" font-size="12.3" text-anchor="start" fill="#231f20" font-weight="normal" textLength="6.5" lengthAdjust="spacingAndGlyphs" stroke="#231f20" stroke-width="0.25" >9</text>
<text x="719.7" y="844.5" font-size="12.3" text-anchor="start" fill="#231f20" font-weight="normal" textLength="107.3" lengthAdjust="spacingAndGlyphs" stroke="#231f20" stroke-width="0.25" >Ottone <tspan font-style="italic">et al.</tspan>, 2014.</text>
<text x="706.3" y="860.6" font-size="12.3" text-anchor="start" fill="#231f20" font-weight="normal" textLength="13.0" lengthAdjust="spacingAndGlyphs" stroke="#231f20" stroke-width="0.25" >10</text>
<text x="721.6" y="860.6" font-size="12.3" text-anchor="start" fill="#231f20" font-weight="normal" textLength="157.9" lengthAdjust="spacingAndGlyphs" stroke="#231f20" stroke-width="0.25" >Strazzere and Gregori 2011.</text>
<text x="706.3" y="877.0" font-size="12.3" text-anchor="start" fill="#231f20" font-weight="normal" textLength="13.0" lengthAdjust="spacingAndGlyphs" stroke="#231f20" stroke-width="0.25" >11</text>
<text x="722.6" y="877.0" font-size="12.3" text-anchor="start" fill="#231f20" font-weight="normal" textLength="112.7" lengthAdjust="spacingAndGlyphs" stroke="#231f20" stroke-width="0.25" >Spalletti <tspan font-style="italic">et al.</tspan>, 2008.</text>
<text x="706.3" y="893.3" font-size="12.3" text-anchor="start" fill="#231f20" font-weight="normal" textLength="13.0" lengthAdjust="spacingAndGlyphs" stroke="#231f20" stroke-width="0.25" >12</text>
<text x="722.2" y="893.3" font-size="12.3" text-anchor="start" fill="#231f20" font-weight="normal" textLength="93.8" lengthAdjust="spacingAndGlyphs" stroke="#231f20" stroke-width="0.25" >Ávila <tspan font-style="italic">et al.</tspan>, 2006.</text>
<text x="706.3" y="909.0" font-size="12.3" text-anchor="start" fill="#231f20" font-weight="normal" textLength="13.0" lengthAdjust="spacingAndGlyphs" stroke="#231f20" stroke-width="0.25" >13</text>
<text x="722.2" y="909.0" font-size="12.3" text-anchor="start" fill="#231f20" font-weight="normal" textLength="111.1" lengthAdjust="spacingAndGlyphs" stroke="#231f20" stroke-width="0.25" >Barredo <tspan font-style="italic">et al.</tspan>, 2012.</text>
<text x="706.3" y="926.2" font-size="12.3" text-anchor="start" fill="#231f20" font-weight="normal" textLength="13.0" lengthAdjust="spacingAndGlyphs" stroke="#231f20" stroke-width="0.25" >14</text>
<text x="721.6" y="926.2" font-size="12.3" text-anchor="start" fill="#231f20" font-weight="normal" textLength="104.8" lengthAdjust="spacingAndGlyphs" stroke="#231f20" stroke-width="0.25" >Creixell <tspan font-style="italic">et al.</tspan>, 2016</text>
<text x="706.3" y="941.9" font-size="12.3" text-anchor="start" fill="#231f20" font-weight="normal" textLength="13.0" lengthAdjust="spacingAndGlyphs" stroke="#231f20" stroke-width="0.25" >15</text>
<text x="721.0" y="941.9" font-size="12.3" text-anchor="start" fill="#231f20" font-weight="normal" textLength="55.7" lengthAdjust="spacingAndGlyphs" stroke="#231f20" stroke-width="0.25" >This work</text>
</svg></body></html>
